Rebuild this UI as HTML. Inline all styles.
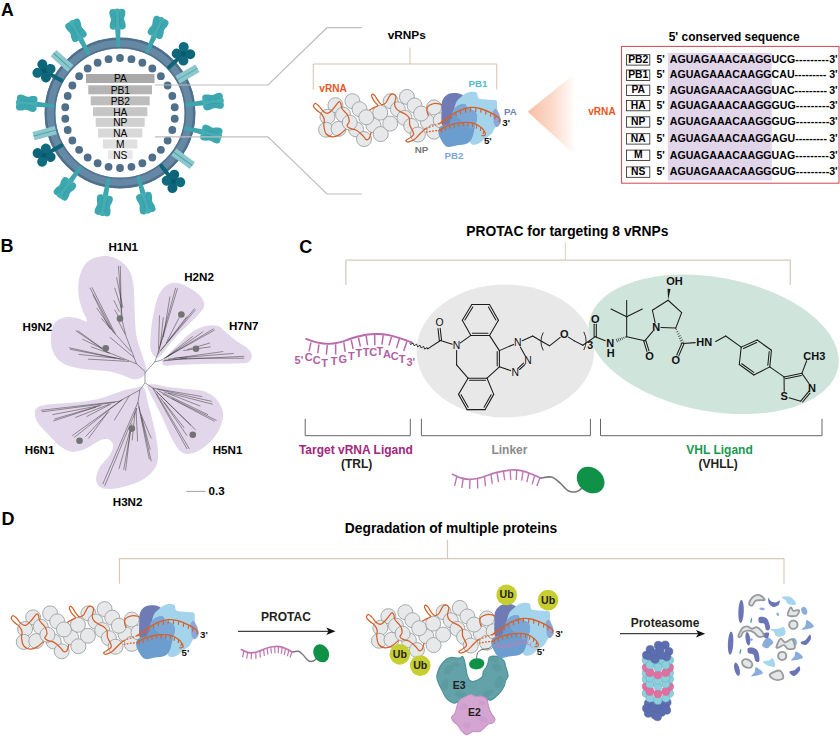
<!DOCTYPE html>
<html><head><meta charset="utf-8"><title>Figure</title>
<style>html,body{margin:0;padding:0;background:#fff;}body{width:840px;height:736px;overflow:hidden;font-family:"Liberation Sans",sans-serif;}svg{display:block}text{font-family:"Liberation Sans",sans-serif;}</style>
</head><body>
<svg width="840" height="736" viewBox="0 0 840 736">
<rect width="840" height="736" fill="#fff"/>
<g id="panelA"><text x="1" y="16.4" font-size="17.6" font-weight="bold" fill="#000" text-anchor="start" >A</text>
<circle cx="120" cy="113" r="70" fill="#fff" stroke="#6588a5" stroke-width="10.6"/>
<circle cx="120" cy="113" r="74.2" fill="none" stroke="#4f708c" stroke-width="2.4"/>
<circle cx="120" cy="113" r="65.4" fill="none" stroke="#52738f" stroke-width="1.6"/>
<g transform="translate(120,113) rotate(-48)"><rect x="-4.3" y="-89.5" width="8.6" height="23" fill="#8dc7cc"/><rect x="-0.4" y="-89.5" width="0.8" height="23" fill="#3d9ca5"/></g>
<g transform="translate(120,113) rotate(60)"><rect x="-4.3" y="-89.5" width="8.6" height="23" fill="#8dc7cc"/><rect x="-0.4" y="-89.5" width="0.8" height="23" fill="#3d9ca5"/></g>
<g transform="translate(120,113) rotate(255)"><rect x="-4.3" y="-89.5" width="8.6" height="23" fill="#8dc7cc"/><rect x="-0.4" y="-89.5" width="0.8" height="23" fill="#3d9ca5"/></g>
<g transform="translate(120,113) rotate(126)"><rect x="-4.3" y="-89.5" width="8.6" height="23" fill="#8dc7cc"/><rect x="-0.4" y="-89.5" width="0.8" height="23" fill="#3d9ca5"/></g>
<g transform="translate(120,113) rotate(-1.5)"><path d="M-2.7,-85 L2.7,-85 L1.8,-66.5 Q0,-64.8 -1.8,-66.5Z" fill="#3ca5ad"/><path d="M-8,-86.5 C-8,-82.3 -0.6,-82.3 -0.6,-86.5 C-0.6,-90.75 -2,-91.75 -2,-93.75 C-2,-95.75 -0.6,-96.75 -0.6,-101 C-0.6,-105.2 -8,-105.2 -8,-101 C-8,-96.75 -6.6,-95.75 -6.6,-93.75 C-6.6,-91.75 -8,-90.75 -8,-86.5Z" fill="#3ca7af"/><path d="M0.6,-86.5 C0.6,-82.3 8,-82.3 8,-86.5 C8,-90.75 6.6,-91.75 6.6,-93.75 C6.6,-95.75 8,-96.75 8,-101 C8,-105.2 0.6,-105.2 0.6,-101 C0.6,-96.75 2,-95.75 2,-93.75 C2,-91.75 0.6,-90.75 0.6,-86.5Z" fill="#3ca7af"/><path d="M-3.5,-86 C-3.5,-81.8 3.5,-81.8 3.5,-86 C3.5,-90.75 2.1,-91.75 2.1,-93.75 C2.1,-95.75 3.5,-96.75 3.5,-101.5 C3.5,-105.7 -3.5,-105.7 -3.5,-101.5 C-3.5,-96.75 -2.1,-95.75 -2.1,-93.75 C-2.1,-91.75 -3.5,-90.75 -3.5,-86Z" fill="#45adb4"/><path d="M-2.6,-101 C-1.8,-96 -1.8,-91 -2.6,-86 M2.6,-101 C1.8,-96 1.8,-91 2.6,-86" stroke="#2f959e" stroke-width="0.7" fill="none"/></g>
<g transform="translate(120,113) rotate(-28)"><path d="M-2.7,-85 L2.7,-85 L1.8,-66.5 Q0,-64.8 -1.8,-66.5Z" fill="#3ca5ad"/><path d="M-8,-86.5 C-8,-82.3 -0.6,-82.3 -0.6,-86.5 C-0.6,-90.75 -2,-91.75 -2,-93.75 C-2,-95.75 -0.6,-96.75 -0.6,-101 C-0.6,-105.2 -8,-105.2 -8,-101 C-8,-96.75 -6.6,-95.75 -6.6,-93.75 C-6.6,-91.75 -8,-90.75 -8,-86.5Z" fill="#3ca7af"/><path d="M0.6,-86.5 C0.6,-82.3 8,-82.3 8,-86.5 C8,-90.75 6.6,-91.75 6.6,-93.75 C6.6,-95.75 8,-96.75 8,-101 C8,-105.2 0.6,-105.2 0.6,-101 C0.6,-96.75 2,-95.75 2,-93.75 C2,-91.75 0.6,-90.75 0.6,-86.5Z" fill="#3ca7af"/><path d="M-3.5,-86 C-3.5,-81.8 3.5,-81.8 3.5,-86 C3.5,-90.75 2.1,-91.75 2.1,-93.75 C2.1,-95.75 3.5,-96.75 3.5,-101.5 C3.5,-105.7 -3.5,-105.7 -3.5,-101.5 C-3.5,-96.75 -2.1,-95.75 -2.1,-93.75 C-2.1,-91.75 -3.5,-90.75 -3.5,-86Z" fill="#45adb4"/><path d="M-2.6,-101 C-1.8,-96 -1.8,-91 -2.6,-86 M2.6,-101 C1.8,-96 1.8,-91 2.6,-86" stroke="#2f959e" stroke-width="0.7" fill="none"/></g>
<g transform="translate(120,113) rotate(24)"><path d="M-2.7,-85 L2.7,-85 L1.8,-66.5 Q0,-64.8 -1.8,-66.5Z" fill="#3ca5ad"/><path d="M-8,-86.5 C-8,-82.3 -0.6,-82.3 -0.6,-86.5 C-0.6,-90.75 -2,-91.75 -2,-93.75 C-2,-95.75 -0.6,-96.75 -0.6,-101 C-0.6,-105.2 -8,-105.2 -8,-101 C-8,-96.75 -6.6,-95.75 -6.6,-93.75 C-6.6,-91.75 -8,-90.75 -8,-86.5Z" fill="#3ca7af"/><path d="M0.6,-86.5 C0.6,-82.3 8,-82.3 8,-86.5 C8,-90.75 6.6,-91.75 6.6,-93.75 C6.6,-95.75 8,-96.75 8,-101 C8,-105.2 0.6,-105.2 0.6,-101 C0.6,-96.75 2,-95.75 2,-93.75 C2,-91.75 0.6,-90.75 0.6,-86.5Z" fill="#3ca7af"/><path d="M-3.5,-86 C-3.5,-81.8 3.5,-81.8 3.5,-86 C3.5,-90.75 2.1,-91.75 2.1,-93.75 C2.1,-95.75 3.5,-96.75 3.5,-101.5 C3.5,-105.7 -3.5,-105.7 -3.5,-101.5 C-3.5,-96.75 -2.1,-95.75 -2.1,-93.75 C-2.1,-91.75 -3.5,-90.75 -3.5,-86Z" fill="#45adb4"/><path d="M-2.6,-101 C-1.8,-96 -1.8,-91 -2.6,-86 M2.6,-101 C1.8,-96 1.8,-91 2.6,-86" stroke="#2f959e" stroke-width="0.7" fill="none"/></g>
<g transform="translate(120,113) rotate(83)"><path d="M-2.7,-85 L2.7,-85 L1.8,-66.5 Q0,-64.8 -1.8,-66.5Z" fill="#3ca5ad"/><path d="M-8,-86.5 C-8,-82.3 -0.6,-82.3 -0.6,-86.5 C-0.6,-90.75 -2,-91.75 -2,-93.75 C-2,-95.75 -0.6,-96.75 -0.6,-101 C-0.6,-105.2 -8,-105.2 -8,-101 C-8,-96.75 -6.6,-95.75 -6.6,-93.75 C-6.6,-91.75 -8,-90.75 -8,-86.5Z" fill="#3ca7af"/><path d="M0.6,-86.5 C0.6,-82.3 8,-82.3 8,-86.5 C8,-90.75 6.6,-91.75 6.6,-93.75 C6.6,-95.75 8,-96.75 8,-101 C8,-105.2 0.6,-105.2 0.6,-101 C0.6,-96.75 2,-95.75 2,-93.75 C2,-91.75 0.6,-90.75 0.6,-86.5Z" fill="#3ca7af"/><path d="M-3.5,-86 C-3.5,-81.8 3.5,-81.8 3.5,-86 C3.5,-90.75 2.1,-91.75 2.1,-93.75 C2.1,-95.75 3.5,-96.75 3.5,-101.5 C3.5,-105.7 -3.5,-105.7 -3.5,-101.5 C-3.5,-96.75 -2.1,-95.75 -2.1,-93.75 C-2.1,-91.75 -3.5,-90.75 -3.5,-86Z" fill="#45adb4"/><path d="M-2.6,-101 C-1.8,-96 -1.8,-91 -2.6,-86 M2.6,-101 C1.8,-96 1.8,-91 2.6,-86" stroke="#2f959e" stroke-width="0.7" fill="none"/></g>
<g transform="translate(120,113) rotate(103)"><path d="M-2.7,-85 L2.7,-85 L1.8,-66.5 Q0,-64.8 -1.8,-66.5Z" fill="#3ca5ad"/><path d="M-8,-86.5 C-8,-82.3 -0.6,-82.3 -0.6,-86.5 C-0.6,-90.75 -2,-91.75 -2,-93.75 C-2,-95.75 -0.6,-96.75 -0.6,-101 C-0.6,-105.2 -8,-105.2 -8,-101 C-8,-96.75 -6.6,-95.75 -6.6,-93.75 C-6.6,-91.75 -8,-90.75 -8,-86.5Z" fill="#3ca7af"/><path d="M0.6,-86.5 C0.6,-82.3 8,-82.3 8,-86.5 C8,-90.75 6.6,-91.75 6.6,-93.75 C6.6,-95.75 8,-96.75 8,-101 C8,-105.2 0.6,-105.2 0.6,-101 C0.6,-96.75 2,-95.75 2,-93.75 C2,-91.75 0.6,-90.75 0.6,-86.5Z" fill="#3ca7af"/><path d="M-3.5,-86 C-3.5,-81.8 3.5,-81.8 3.5,-86 C3.5,-90.75 2.1,-91.75 2.1,-93.75 C2.1,-95.75 3.5,-96.75 3.5,-101.5 C3.5,-105.7 -3.5,-105.7 -3.5,-101.5 C-3.5,-96.75 -2.1,-95.75 -2.1,-93.75 C-2.1,-91.75 -3.5,-90.75 -3.5,-86Z" fill="#45adb4"/><path d="M-2.6,-101 C-1.8,-96 -1.8,-91 -2.6,-86 M2.6,-101 C1.8,-96 1.8,-91 2.6,-86" stroke="#2f959e" stroke-width="0.7" fill="none"/></g>
<g transform="translate(120,113) rotate(276)"><path d="M-2.7,-85 L2.7,-85 L1.8,-66.5 Q0,-64.8 -1.8,-66.5Z" fill="#3ca5ad"/><path d="M-8,-86.5 C-8,-82.3 -0.6,-82.3 -0.6,-86.5 C-0.6,-90.75 -2,-91.75 -2,-93.75 C-2,-95.75 -0.6,-96.75 -0.6,-101 C-0.6,-105.2 -8,-105.2 -8,-101 C-8,-96.75 -6.6,-95.75 -6.6,-93.75 C-6.6,-91.75 -8,-90.75 -8,-86.5Z" fill="#3ca7af"/><path d="M0.6,-86.5 C0.6,-82.3 8,-82.3 8,-86.5 C8,-90.75 6.6,-91.75 6.6,-93.75 C6.6,-95.75 8,-96.75 8,-101 C8,-105.2 0.6,-105.2 0.6,-101 C0.6,-96.75 2,-95.75 2,-93.75 C2,-91.75 0.6,-90.75 0.6,-86.5Z" fill="#3ca7af"/><path d="M-3.5,-86 C-3.5,-81.8 3.5,-81.8 3.5,-86 C3.5,-90.75 2.1,-91.75 2.1,-93.75 C2.1,-95.75 3.5,-96.75 3.5,-101.5 C3.5,-105.7 -3.5,-105.7 -3.5,-101.5 C-3.5,-96.75 -2.1,-95.75 -2.1,-93.75 C-2.1,-91.75 -3.5,-90.75 -3.5,-86Z" fill="#45adb4"/><path d="M-2.6,-101 C-1.8,-96 -1.8,-91 -2.6,-86 M2.6,-101 C1.8,-96 1.8,-91 2.6,-86" stroke="#2f959e" stroke-width="0.7" fill="none"/></g>
<g transform="translate(120,113) rotate(216)"><path d="M-2.7,-85 L2.7,-85 L1.8,-66.5 Q0,-64.8 -1.8,-66.5Z" fill="#3ca5ad"/><path d="M-8,-86.5 C-8,-82.3 -0.6,-82.3 -0.6,-86.5 C-0.6,-90.75 -2,-91.75 -2,-93.75 C-2,-95.75 -0.6,-96.75 -0.6,-101 C-0.6,-105.2 -8,-105.2 -8,-101 C-8,-96.75 -6.6,-95.75 -6.6,-93.75 C-6.6,-91.75 -8,-90.75 -8,-86.5Z" fill="#3ca7af"/><path d="M0.6,-86.5 C0.6,-82.3 8,-82.3 8,-86.5 C8,-90.75 6.6,-91.75 6.6,-93.75 C6.6,-95.75 8,-96.75 8,-101 C8,-105.2 0.6,-105.2 0.6,-101 C0.6,-96.75 2,-95.75 2,-93.75 C2,-91.75 0.6,-90.75 0.6,-86.5Z" fill="#3ca7af"/><path d="M-3.5,-86 C-3.5,-81.8 3.5,-81.8 3.5,-86 C3.5,-90.75 2.1,-91.75 2.1,-93.75 C2.1,-95.75 3.5,-96.75 3.5,-101.5 C3.5,-105.7 -3.5,-105.7 -3.5,-101.5 C-3.5,-96.75 -2.1,-95.75 -2.1,-93.75 C-2.1,-91.75 -3.5,-90.75 -3.5,-86Z" fill="#45adb4"/><path d="M-2.6,-101 C-1.8,-96 -1.8,-91 -2.6,-86 M2.6,-101 C1.8,-96 1.8,-91 2.6,-86" stroke="#2f959e" stroke-width="0.7" fill="none"/></g>
<g transform="translate(120,113) rotate(190)"><path d="M-2.7,-85 L2.7,-85 L1.8,-66.5 Q0,-64.8 -1.8,-66.5Z" fill="#3ca5ad"/><path d="M-8,-86.5 C-8,-82.3 -0.6,-82.3 -0.6,-86.5 C-0.6,-90.75 -2,-91.75 -2,-93.75 C-2,-95.75 -0.6,-96.75 -0.6,-101 C-0.6,-105.2 -8,-105.2 -8,-101 C-8,-96.75 -6.6,-95.75 -6.6,-93.75 C-6.6,-91.75 -8,-90.75 -8,-86.5Z" fill="#3ca7af"/><path d="M0.6,-86.5 C0.6,-82.3 8,-82.3 8,-86.5 C8,-90.75 6.6,-91.75 6.6,-93.75 C6.6,-95.75 8,-96.75 8,-101 C8,-105.2 0.6,-105.2 0.6,-101 C0.6,-96.75 2,-95.75 2,-93.75 C2,-91.75 0.6,-90.75 0.6,-86.5Z" fill="#3ca7af"/><path d="M-3.5,-86 C-3.5,-81.8 3.5,-81.8 3.5,-86 C3.5,-90.75 2.1,-91.75 2.1,-93.75 C2.1,-95.75 3.5,-96.75 3.5,-101.5 C3.5,-105.7 -3.5,-105.7 -3.5,-101.5 C-3.5,-96.75 -2.1,-95.75 -2.1,-93.75 C-2.1,-91.75 -3.5,-90.75 -3.5,-86Z" fill="#45adb4"/><path d="M-2.6,-101 C-1.8,-96 -1.8,-91 -2.6,-86 M2.6,-101 C1.8,-96 1.8,-91 2.6,-86" stroke="#2f959e" stroke-width="0.7" fill="none"/></g>
<g transform="translate(120,113) rotate(164)"><path d="M-2.7,-85 L2.7,-85 L1.8,-66.5 Q0,-64.8 -1.8,-66.5Z" fill="#3ca5ad"/><path d="M-8,-86.5 C-8,-82.3 -0.6,-82.3 -0.6,-86.5 C-0.6,-90.75 -2,-91.75 -2,-93.75 C-2,-95.75 -0.6,-96.75 -0.6,-101 C-0.6,-105.2 -8,-105.2 -8,-101 C-8,-96.75 -6.6,-95.75 -6.6,-93.75 C-6.6,-91.75 -8,-90.75 -8,-86.5Z" fill="#3ca7af"/><path d="M0.6,-86.5 C0.6,-82.3 8,-82.3 8,-86.5 C8,-90.75 6.6,-91.75 6.6,-93.75 C6.6,-95.75 8,-96.75 8,-101 C8,-105.2 0.6,-105.2 0.6,-101 C0.6,-96.75 2,-95.75 2,-93.75 C2,-91.75 0.6,-90.75 0.6,-86.5Z" fill="#3ca7af"/><path d="M-3.5,-86 C-3.5,-81.8 3.5,-81.8 3.5,-86 C3.5,-90.75 2.1,-91.75 2.1,-93.75 C2.1,-95.75 3.5,-96.75 3.5,-101.5 C3.5,-105.7 -3.5,-105.7 -3.5,-101.5 C-3.5,-96.75 -2.1,-95.75 -2.1,-93.75 C-2.1,-91.75 -3.5,-90.75 -3.5,-86Z" fill="#45adb4"/><path d="M-2.6,-101 C-1.8,-96 -1.8,-91 -2.6,-86 M2.6,-101 C1.8,-96 1.8,-91 2.6,-86" stroke="#2f959e" stroke-width="0.7" fill="none"/></g>
<g transform="translate(120,113) rotate(-61)"><line x1="0" y1="-67" x2="0" y2="-86" stroke="#0d6579" stroke-width="4" stroke-linecap="round"/><circle cx="0" cy="-87" r="5.0" fill="#0a566a"/><circle cx="-4.9" cy="-91.7" r="5.0" fill="#0f6b7e"/><circle cx="4.9" cy="-91.5" r="5.0" fill="#0d6579"/><circle cx="-4.8" cy="-82" r="5.0" fill="#0d6579"/><circle cx="4.9" cy="-82.1" r="5.0" fill="#10697c"/></g>
<g transform="translate(120,113) rotate(47)"><line x1="0" y1="-67" x2="0" y2="-86" stroke="#0d6579" stroke-width="4" stroke-linecap="round"/><circle cx="0" cy="-87" r="5.0" fill="#0a566a"/><circle cx="-4.9" cy="-91.7" r="5.0" fill="#0f6b7e"/><circle cx="4.9" cy="-91.5" r="5.0" fill="#0d6579"/><circle cx="-4.8" cy="-82" r="5.0" fill="#0d6579"/><circle cx="4.9" cy="-82.1" r="5.0" fill="#10697c"/></g>
<g transform="translate(120,113) rotate(241)"><line x1="0" y1="-67" x2="0" y2="-86" stroke="#0d6579" stroke-width="4" stroke-linecap="round"/><circle cx="0" cy="-87" r="5.0" fill="#0a566a"/><circle cx="-4.9" cy="-91.7" r="5.0" fill="#0f6b7e"/><circle cx="4.9" cy="-91.5" r="5.0" fill="#0d6579"/><circle cx="-4.8" cy="-82" r="5.0" fill="#0d6579"/><circle cx="4.9" cy="-82.1" r="5.0" fill="#10697c"/></g>
<g transform="translate(120,113) rotate(142)"><line x1="0" y1="-67" x2="0" y2="-86" stroke="#0d6579" stroke-width="4" stroke-linecap="round"/><circle cx="0" cy="-87" r="5.0" fill="#0a566a"/><circle cx="-4.9" cy="-91.7" r="5.0" fill="#0f6b7e"/><circle cx="4.9" cy="-91.5" r="5.0" fill="#0d6579"/><circle cx="-4.8" cy="-82" r="5.0" fill="#0d6579"/><circle cx="4.9" cy="-82.1" r="5.0" fill="#10697c"/></g>
<circle cx="120" cy="58" r="3.9" fill="#4f6f8b"/>
<circle cx="131.44" cy="59.2" r="3.9" fill="#4f6f8b"/>
<circle cx="142.37" cy="62.75" r="3.9" fill="#4f6f8b"/>
<circle cx="152.33" cy="68.5" r="3.9" fill="#4f6f8b"/>
<circle cx="160.87" cy="76.2" r="3.9" fill="#4f6f8b"/>
<circle cx="167.63" cy="85.5" r="3.9" fill="#4f6f8b"/>
<circle cx="172.31" cy="96" r="3.9" fill="#4f6f8b"/>
<circle cx="174.7" cy="107.25" r="3.9" fill="#4f6f8b"/>
<circle cx="174.7" cy="118.75" r="3.9" fill="#4f6f8b"/>
<circle cx="172.31" cy="130" r="3.9" fill="#4f6f8b"/>
<circle cx="167.63" cy="140.5" r="3.9" fill="#4f6f8b"/>
<circle cx="160.87" cy="149.8" r="3.9" fill="#4f6f8b"/>
<circle cx="152.33" cy="157.5" r="3.9" fill="#4f6f8b"/>
<circle cx="142.37" cy="163.25" r="3.9" fill="#4f6f8b"/>
<circle cx="131.44" cy="166.8" r="3.9" fill="#4f6f8b"/>
<circle cx="120" cy="168" r="3.9" fill="#4f6f8b"/>
<circle cx="108.56" cy="166.8" r="3.9" fill="#4f6f8b"/>
<circle cx="97.63" cy="163.25" r="3.9" fill="#4f6f8b"/>
<circle cx="87.67" cy="157.5" r="3.9" fill="#4f6f8b"/>
<circle cx="79.13" cy="149.8" r="3.9" fill="#4f6f8b"/>
<circle cx="72.37" cy="140.5" r="3.9" fill="#4f6f8b"/>
<circle cx="67.69" cy="130" r="3.9" fill="#4f6f8b"/>
<circle cx="65.3" cy="118.75" r="3.9" fill="#4f6f8b"/>
<circle cx="65.3" cy="107.25" r="3.9" fill="#4f6f8b"/>
<circle cx="67.69" cy="96" r="3.9" fill="#4f6f8b"/>
<circle cx="72.37" cy="85.5" r="3.9" fill="#4f6f8b"/>
<circle cx="79.13" cy="76.2" r="3.9" fill="#4f6f8b"/>
<circle cx="87.67" cy="68.5" r="3.9" fill="#4f6f8b"/>
<circle cx="97.63" cy="62.75" r="3.9" fill="#4f6f8b"/>
<circle cx="108.56" cy="59.2" r="3.9" fill="#4f6f8b"/>
<rect x="86" y="74" width="68.5" height="9" fill="#a9a9a9"/>
<text x="120.3" y="82.4" font-size="10.2" font-weight="normal" fill="#000" text-anchor="middle" >PA</text>
<rect x="88.3" y="85.3" width="63.7" height="9" fill="#b4b4b4"/>
<text x="120.3" y="93.7" font-size="10.2" font-weight="normal" fill="#000" text-anchor="middle" >PB1</text>
<rect x="90.7" y="96.3" width="59" height="9" fill="#bdbdbd"/>
<text x="120.3" y="104.7" font-size="10.2" font-weight="normal" fill="#000" text-anchor="middle" >PB2</text>
<rect x="93" y="107.2" width="54.3" height="9" fill="#c6c6c6"/>
<text x="120.3" y="115.6" font-size="10.2" font-weight="normal" fill="#000" text-anchor="middle" >HA</text>
<rect x="95.7" y="117.8" width="49" height="9" fill="#cfcfcf"/>
<text x="120.3" y="126.2" font-size="10.2" font-weight="normal" fill="#000" text-anchor="middle" >NP</text>
<rect x="98" y="128.5" width="44.3" height="9" fill="#d8d8d8"/>
<text x="120.3" y="136.9" font-size="10.2" font-weight="normal" fill="#000" text-anchor="middle" >NA</text>
<rect x="103" y="139.5" width="34.3" height="9" fill="#e0e0e0"/>
<text x="120.3" y="147.9" font-size="10.2" font-weight="normal" fill="#000" text-anchor="middle" >M</text>
<rect x="108" y="150.3" width="24.7" height="9" fill="#e8e8e8"/>
<text x="120.3" y="158.7" font-size="10.2" font-weight="normal" fill="#000" text-anchor="middle" >NS</text>
<path d="M155,85 H268 L327,27.7 H362 M155,136.8 H268 L327,194 H362" fill="none" stroke="#bebebe" stroke-width="1.2"/></g>
<g id="panelA2"><text x="406.7" y="38.5" font-size="11.8" font-weight="bold" fill="#000" text-anchor="middle" >vRNPs</text>
<path d="M410,47.5 V64 M313.3,89.5 V64 H496.8 V89.5" fill="none" stroke="#d3b9a4" stroke-width="0.9"/>
<g transform="translate(0,0) scale(1.0)"><circle cx="352.41" cy="101.16" r="7.5" fill="#e6e8ea" stroke="#9a9d9e" stroke-width="0.85"/><circle cx="335.45" cy="105.18" r="7.5" fill="#e6e8ea" stroke="#9a9d9e" stroke-width="0.85"/><circle cx="327.41" cy="116.79" r="7.5" fill="#e6e8ea" stroke="#9a9d9e" stroke-width="0.85"/><circle cx="326.07" cy="129.73" r="7.5" fill="#e6e8ea" stroke="#9a9d9e" stroke-width="0.85"/><circle cx="338.57" cy="128.84" r="7.5" fill="#e6e8ea" stroke="#9a9d9e" stroke-width="0.85"/><circle cx="343.04" cy="114.55" r="7.5" fill="#e6e8ea" stroke="#9a9d9e" stroke-width="0.85"/><circle cx="359.55" cy="109.2" r="7.5" fill="#e6e8ea" stroke="#9a9d9e" stroke-width="0.85"/><circle cx="355.98" cy="129.29" r="7.5" fill="#e6e8ea" stroke="#9a9d9e" stroke-width="0.85"/><circle cx="349.73" cy="122.59" r="7.5" fill="#e6e8ea" stroke="#9a9d9e" stroke-width="0.85"/><circle cx="364.02" cy="139.11" r="7.5" fill="#e6e8ea" stroke="#9a9d9e" stroke-width="0.85"/><circle cx="373.39" cy="125.27" r="7.5" fill="#e6e8ea" stroke="#9a9d9e" stroke-width="0.85"/><circle cx="366.25" cy="117.23" r="7.5" fill="#e6e8ea" stroke="#9a9d9e" stroke-width="0.85"/><circle cx="390.71" cy="101.19" r="7.5" fill="#e6e8ea" stroke="#9a9d9e" stroke-width="0.85"/><circle cx="380.24" cy="112.62" r="7.5" fill="#e6e8ea" stroke="#9a9d9e" stroke-width="0.85"/><circle cx="380.71" cy="134.05" r="7.5" fill="#e6e8ea" stroke="#9a9d9e" stroke-width="0.85"/><circle cx="390.24" cy="123.57" r="7.5" fill="#e6e8ea" stroke="#9a9d9e" stroke-width="0.85"/><circle cx="406.9" cy="96.9" r="7.5" fill="#e6e8ea" stroke="#9a9d9e" stroke-width="0.85"/><circle cx="397.86" cy="109.29" r="7.5" fill="#e6e8ea" stroke="#9a9d9e" stroke-width="0.85"/><circle cx="404.52" cy="117.86" r="7.5" fill="#e6e8ea" stroke="#9a9d9e" stroke-width="0.85"/><circle cx="414.52" cy="105.48" r="7.5" fill="#e6e8ea" stroke="#9a9d9e" stroke-width="0.85"/><circle cx="411.19" cy="125.95" r="7.5" fill="#e6e8ea" stroke="#9a9d9e" stroke-width="0.85"/><circle cx="417.86" cy="134.52" r="7.5" fill="#e6e8ea" stroke="#9a9d9e" stroke-width="0.85"/><circle cx="427.86" cy="122.14" r="7.5" fill="#e6e8ea" stroke="#9a9d9e" stroke-width="0.85"/><circle cx="421.19" cy="113.57" r="7.5" fill="#e6e8ea" stroke="#9a9d9e" stroke-width="0.85"/><circle cx="434.05" cy="107.38" r="7.5" fill="#e6e8ea" stroke="#9a9d9e" stroke-width="0.85"/><circle cx="434.05" cy="131.67" r="7.5" fill="#e6e8ea" stroke="#9a9d9e" stroke-width="0.85"/><circle cx="440.71" cy="120.24" r="7.5" fill="#e6e8ea" stroke="#9a9d9e" stroke-width="0.85"/><path d="M428.33,115.48 C428.1,114.68 426.98,112.22 426.9,110.71 C426.83,109.21 426.75,107.62 427.86,106.43 C428.97,105.24 431.51,103.97 433.57,103.57 C435.63,103.17 438.73,103.65 440.24,104.05 C441.75,104.44 442.22,105.63 442.62,105.95" fill="none" stroke="#d5612a" stroke-width="1.25"/><path d="M441.5,111.67 C441.61,108.31 441.3,104.03 442.11,101.28 C442.93,98.53 444.56,96.54 446.39,95.17 C448.23,93.81 450.77,93.3 453.12,93.09 C455.46,92.89 458.66,93.3 460.45,93.95 C462.25,94.6 463.06,94.87 463.88,97 C464.69,99.14 465.71,102.71 465.34,106.78 C464.98,110.86 463.92,117.99 461.67,121.45 C459.43,124.92 454.95,126.75 451.89,127.57 C448.84,128.38 445.07,127.36 443.34,126.34 C441.61,125.33 441.81,123.9 441.5,121.45 C441.2,119.01 441.4,115.04 441.5,111.67Z" fill="#6e7bb4"/><path d="M455.56,103.73 C456.58,100.77 458.62,99.39 460.45,97.62 C462.29,95.84 464.63,94.05 466.56,93.09 C468.5,92.14 470.33,91.87 472.07,91.87 C473.8,91.87 475.88,92.03 476.96,93.09 C478.04,94.15 477.02,97.17 478.55,98.23 C480.07,99.29 483.64,99.14 486.12,99.45 C488.61,99.76 491.67,99.76 493.46,100.06 C495.25,100.37 496.27,99.76 496.88,101.28 C497.49,102.81 496.64,106.89 497.13,109.23 C497.62,111.57 499.25,113 499.82,115.34 C500.39,117.69 501.3,121.25 500.55,123.29 C499.8,125.33 496.78,125.84 495.29,127.57 C493.81,129.3 493.36,131.85 491.63,133.68 C489.89,135.51 487.04,136.94 484.9,138.57 C482.76,140.2 480.93,142.48 478.79,143.46 C476.65,144.44 473.8,145.05 472.07,144.44 C470.33,143.83 470.13,142.2 468.4,139.79 C466.67,137.39 464.02,134.09 461.67,130.01 C459.33,125.94 455.36,119.72 454.34,115.34 C453.32,110.96 454.54,106.68 455.56,103.73Z" fill="#a4d4ec"/><path d="M492.6,112.29 C492.97,110.74 494.7,108.39 495.66,108.5 C496.62,108.6 497.6,111.45 498.35,112.9 C499.1,114.34 499.78,115.65 500.18,117.18 C500.59,118.7 501.26,120.42 500.79,122.07 C500.33,123.72 498.49,126.77 497.37,127.08 C496.25,127.38 494.72,125.45 494.07,123.9 C493.42,122.35 493.7,119.72 493.46,117.79 C493.22,115.85 492.24,113.83 492.6,112.29Z" fill="#8da5d8"/><path d="M452.51,111.67 C453.69,109.74 455.97,106.83 458.01,105.56 C460.04,104.3 463.06,103.59 464.73,104.1 C466.4,104.6 466.34,107.4 468.03,108.62 C469.72,109.84 473.37,110 474.88,111.43 C476.39,112.86 477.14,114.28 477.08,117.18 C477.02,120.07 475.35,125.33 474.51,128.79 C473.68,132.25 473.29,135.51 472.07,137.96 C470.84,140.4 469.62,142.24 467.18,143.46 C464.73,144.68 460.66,144.72 457.4,145.29 C454.14,145.86 450.16,147.49 447.62,146.88 C445.07,146.27 443.64,143.93 442.11,141.63 C440.59,139.32 438.69,135.62 438.45,133.07 C438.2,130.52 438.92,127.87 440.65,126.34 C442.38,124.82 447.13,125.43 448.84,123.9 C450.55,122.37 450.31,119.21 450.92,117.18 C451.53,115.14 451.32,113.61 452.51,111.67Z" fill="#6c9dcf"/><path d="M452.87,111.43 C452.87,109.39 456.03,106.78 458.01,105.56 C459.98,104.34 463.06,103.59 464.73,104.1 C466.4,104.6 466.34,107.4 468.03,108.62 C469.72,109.84 473.37,110 474.88,111.43 C476.39,112.86 476.94,115.1 477.08,117.18 C477.22,119.25 476.67,121.96 475.73,123.9 C474.8,125.84 473.19,128.79 471.45,128.79 C469.72,128.79 467.58,125.73 465.34,123.9 C463.1,122.07 460.09,119.87 458.01,117.79 C455.93,115.71 452.87,113.47 452.87,111.43Z" fill="#7aa7d6"/><path d="M345.71,129.29 C344.67,130.18 341.7,133.38 339.46,134.64 C337.23,135.91 334.55,137.02 332.32,136.88 C330.09,136.73 327.49,135.61 326.07,133.75 C324.66,131.89 324.14,128.1 323.84,125.71 C323.54,123.33 324.66,121.4 324.29,119.46 C323.91,117.53 322.8,115.6 321.61,114.11 C320.42,112.62 318.48,111.8 317.14,110.54 C315.8,109.27 313.87,107.71 313.57,106.52 C313.27,105.33 314.46,103.47 315.36,103.39 C316.25,103.32 317.59,104.73 318.93,106.07 C320.27,107.41 321.9,110.24 323.39,111.43 C324.88,112.62 326.22,113.66 327.86,113.21 C329.49,112.77 331.43,110.61 333.21,108.75 C335,106.89 337.31,102.95 338.57,102.05 C339.84,101.16 340.21,102.28 340.8,103.39 C341.4,104.51 341.03,106.82 342.14,108.75 C343.26,110.68 346.31,112.92 347.5,115 C348.69,117.08 349.36,119.46 349.29,121.25 C349.21,123.04 346.9,124.52 347.05,125.71 C347.2,126.9 348.62,127.65 350.18,128.39 C351.74,129.14 354.35,128.99 356.43,130.18 C358.51,131.37 361.04,133.97 362.68,135.54 C364.32,137.1 365.13,139.11 366.25,139.55 C367.37,140 368.56,139.48 369.38,138.21 C370.19,136.95 370.86,133.01 371.16,131.96 M369.29,110.24 C370.16,109.76 373.1,108.17 374.52,107.38 C375.95,106.59 377.86,106.43 377.86,105.48 C377.86,104.52 375.56,103.17 374.52,101.67 C373.49,100.16 371.98,97.7 371.67,96.43 C371.35,95.16 372.06,94.13 372.62,94.05 C373.17,93.97 374.05,94.76 375,95.95 C375.95,97.14 377.22,99.76 378.33,101.19 C379.44,102.62 380.48,104.21 381.67,104.52 C382.86,104.84 384.37,104.13 385.48,103.1 C386.59,102.06 387.46,99.76 388.33,98.33 C389.21,96.9 389.68,95.16 390.71,94.52 C391.75,93.89 393.65,94.05 394.52,94.52 C395.4,95 395.95,95.79 395.95,97.38 C395.95,98.97 394.44,102.14 394.52,104.05 C394.6,105.95 395.32,107.46 396.43,108.81 C397.54,110.16 399.6,111.19 401.19,112.14 C402.78,113.1 404.6,113.49 405.95,114.52 C407.3,115.56 408.65,116.59 409.29,118.33 C409.92,120.08 409.21,122.94 409.76,125 C410.32,127.06 411.98,129.13 412.62,130.71 C413.25,132.3 413.89,133.41 413.57,134.52 C413.25,135.63 411.83,136.51 410.71,137.38 C409.6,138.25 407.7,139.13 406.9,139.76 C406.11,140.4 405.63,140.83 405.95,141.19 C406.27,141.56 407.38,142.27 408.81,141.95 C410.24,141.63 412.62,140.68 414.52,139.29 C416.43,137.89 418.33,135.4 420.24,133.57 C422.14,131.75 425,129.21 425.95,128.33" fill="none" stroke="#d5612a" stroke-width="1.25" stroke-linejoin="round"/><path d="M425.95,128.33 C427.54,127.78 432.94,125.95 435.48,125 C438.02,124.05 440.59,122.8 441.19,122.62 C441.79,122.44 439.41,123.69 439.06,123.9 M425.95,132.14 C427.54,131.9 433.29,130.97 435.48,130.71 C437.66,130.46 438.46,130.64 439.06,130.62" fill="none" stroke="#d5612a" stroke-width="1.2" stroke-dasharray="1.8 1.3"/><path d="M439.06,123.9 C439.98,123.19 442.83,120.88 444.56,119.62 C446.29,118.36 447,117.81 449.45,116.32 C451.89,114.83 455.77,112.16 459.23,110.7 C462.69,109.23 466.77,107.89 470.23,107.52 C473.7,107.15 476.55,107.6 480.01,108.5 C483.48,109.39 487.8,111.25 491.01,112.9 C494.23,114.55 497.98,116.87 499.33,118.4 C500.67,119.93 499.12,121.45 499.08,122.07 M439.06,130.62 C439.77,130.15 441.61,128.73 443.34,127.81 C445.07,126.89 446.39,126 449.45,125.12 C452.51,124.25 457.6,122.84 461.67,122.56 C465.75,122.27 470.64,122.58 473.9,123.41 C477.16,124.25 479.4,126.1 481.23,127.57 C483.07,129.03 484.29,130.91 484.9,132.21 C485.51,133.52 485.47,134.82 484.9,135.39 C484.33,135.96 482.05,135.59 481.48,135.64" fill="none" stroke="#d5612a" stroke-width="1.3" stroke-linejoin="round"/><path d="M442.24,121.42 L443,125.01 M446.54,118.29 L447.22,121.93 M451.01,115.42 L451.62,119.11 M455.62,112.77 L456.24,116.46 M460.34,110.37 L460.68,114.18 M465.45,108.9 L465.79,112.7 M470.58,107.55 L470.45,111.4 M475.87,108.08 L475.75,111.93 M481.08,108.93 L480.63,112.69 M486.02,110.9 L485.57,114.66 M490.96,112.88 L490.51,116.64 M495.4,115.8 L494.73,119.45 M441.19,129.23 L441.82,132.67 M445.27,126.96 L445.73,130.5 M449.56,125.1 L449.8,128.7 M454.14,124.14 L454.38,127.74 M458.72,123.17 L458.96,126.78 M463.34,122.67 L463.26,126.3 M468.01,123 L467.93,126.63 M472.68,123.33 L472.6,126.95 M476.91,125.12 L476.34,128.6 M480.98,127.42 L480.41,130.9 M483.96,131.01 L483.05,134.21" fill="none" stroke="#d5612a" stroke-width="1.15"/></g>
<text x="319.3" y="91.5" font-size="10.1" font-weight="bold" fill="#e8571f" text-anchor="start" >vRNA</text>
<text x="468.5" y="87.4" font-size="9.7" font-weight="bold" fill="#52bccb" text-anchor="start" >PB1</text>
<text x="504" y="115.2" font-size="9.7" font-weight="bold" fill="#717fbd" text-anchor="start" >PA</text>
<text x="502.3" y="125.9" font-size="9.7" font-weight="bold" fill="#111" text-anchor="start" >3'</text>
<text x="483.9" y="143.8" font-size="9.7" font-weight="bold" fill="#111" text-anchor="start" >5'</text>
<text x="414.8" y="152.7" font-size="9.7" font-weight="bold" fill="#777" text-anchor="start" >NP</text>
<text x="444.6" y="158.7" font-size="9.7" font-weight="bold" fill="#7ba6db" text-anchor="start" >PB2</text></g>
<g id="panelA3"><defs><linearGradient id="tri" x1="0" x2="1" y1="0" y2="0"><stop offset="0" stop-color="#f8bfa6"/><stop offset="0.5" stop-color="#fbd9c9"/><stop offset="1" stop-color="#ffffff"/></linearGradient></defs>
<path d="M527.7,111.8 L575.5,73 V155.6Z" fill="url(#tri)"/>
<text x="588.2" y="115.3" font-size="10.1" font-weight="bold" fill="#e8571f" text-anchor="start" >vRNA</text>
<text x="734.2" y="40.5" font-size="11.95" font-weight="bold" fill="#000" text-anchor="middle" >5' conserved sequence</text>
<rect x="667.8" y="53" width="104" height="127.3" fill="#e1d5ea"/>
<rect x="621.6" y="46.4" width="217.4" height="136.8" fill="none" stroke="#d8434f" stroke-width="1"/>
<rect x="626.6" y="54.7" width="23.2" height="10.4" fill="#fff" stroke="#222" stroke-width="0.8"/>
<text x="638.2" y="63" font-size="10.3" font-weight="bold" fill="#000" text-anchor="middle" >PB2</text>
<text x="656.5" y="63.1" font-size="10.4" font-weight="bold" fill="#000" text-anchor="start" >5'</text>
<text x="669.8" y="63.1" font-size="10.6" font-weight="bold" fill="#000" text-anchor="start" >AGUAGAAACAAGGUCG<tspan letter-spacing="0.22">---------</tspan></text>
<text x="837.6" y="63.1" font-size="10.6" font-weight="bold" fill="#000" text-anchor="end" >3'</text>
<rect x="626.6" y="70" width="23.2" height="10.4" fill="#fff" stroke="#222" stroke-width="0.8"/>
<text x="638.2" y="78.3" font-size="10.3" font-weight="bold" fill="#000" text-anchor="middle" >PB1</text>
<text x="656.5" y="78.4" font-size="10.4" font-weight="bold" fill="#000" text-anchor="start" >5'</text>
<text x="669.8" y="78.4" font-size="10.6" font-weight="bold" fill="#000" text-anchor="start" >AGUAGAAACAAGGCAU<tspan letter-spacing="0">---------</tspan></text>
<text x="837.6" y="78.4" font-size="10.6" font-weight="bold" fill="#000" text-anchor="end" >3'</text>
<rect x="626.6" y="85.1" width="23.2" height="10.4" fill="#fff" stroke="#222" stroke-width="0.8"/>
<text x="638.2" y="93.4" font-size="10.3" font-weight="bold" fill="#000" text-anchor="middle" >PA</text>
<text x="656.5" y="93.5" font-size="10.4" font-weight="bold" fill="#000" text-anchor="start" >5'</text>
<text x="669.8" y="93.5" font-size="10.6" font-weight="bold" fill="#000" text-anchor="start" >AGUAGAAACAAGGUAC<tspan letter-spacing="0.1">---------</tspan></text>
<text x="837.6" y="93.5" font-size="10.6" font-weight="bold" fill="#000" text-anchor="end" >3'</text>
<rect x="626.6" y="100.4" width="23.2" height="10.4" fill="#fff" stroke="#222" stroke-width="0.8"/>
<text x="638.2" y="108.7" font-size="10.3" font-weight="bold" fill="#000" text-anchor="middle" >HA</text>
<text x="656.5" y="108.8" font-size="10.4" font-weight="bold" fill="#000" text-anchor="start" >5'</text>
<text x="669.8" y="108.8" font-size="10.6" font-weight="bold" fill="#000" text-anchor="start" >AGUAGAAACAAGGGUG<tspan letter-spacing="0.22">---------</tspan></text>
<text x="837.6" y="108.8" font-size="10.6" font-weight="bold" fill="#000" text-anchor="end" >3'</text>
<rect x="626.6" y="116.8" width="23.2" height="10.4" fill="#fff" stroke="#222" stroke-width="0.8"/>
<text x="638.2" y="125.1" font-size="10.3" font-weight="bold" fill="#000" text-anchor="middle" >NP</text>
<text x="656.5" y="125.2" font-size="10.4" font-weight="bold" fill="#000" text-anchor="start" >5'</text>
<text x="669.8" y="125.2" font-size="10.6" font-weight="bold" fill="#000" text-anchor="start" >AGUAGAAACAAGGGUG<tspan letter-spacing="0.22">---------</tspan></text>
<text x="837.6" y="125.2" font-size="10.6" font-weight="bold" fill="#000" text-anchor="end" >3'</text>
<rect x="626.6" y="133.7" width="23.2" height="10.4" fill="#fff" stroke="#222" stroke-width="0.8"/>
<text x="638.2" y="142" font-size="10.3" font-weight="bold" fill="#000" text-anchor="middle" >NA</text>
<text x="656.5" y="142.1" font-size="10.4" font-weight="bold" fill="#000" text-anchor="start" >5'</text>
<text x="669.8" y="142.1" font-size="10.6" font-weight="bold" fill="#000" text-anchor="start" >AGUAGAAACAAGGAGU<tspan letter-spacing="0">---------</tspan></text>
<text x="837.6" y="142.1" font-size="10.6" font-weight="bold" fill="#000" text-anchor="end" >3'</text>
<rect x="626.6" y="150.1" width="23.2" height="10.4" fill="#fff" stroke="#222" stroke-width="0.8"/>
<text x="638.2" y="158.4" font-size="10.3" font-weight="bold" fill="#000" text-anchor="middle" >M</text>
<text x="656.5" y="158.5" font-size="10.4" font-weight="bold" fill="#000" text-anchor="start" >5'</text>
<text x="669.8" y="158.5" font-size="10.6" font-weight="bold" fill="#000" text-anchor="start" >AGUAGAAACAAGGUAG<tspan letter-spacing="0.22">---------</tspan></text>
<text x="837.6" y="158.5" font-size="10.6" font-weight="bold" fill="#000" text-anchor="end" >3'</text>
<rect x="626.6" y="166.9" width="23.2" height="10.4" fill="#fff" stroke="#222" stroke-width="0.8"/>
<text x="638.2" y="175.2" font-size="10.3" font-weight="bold" fill="#000" text-anchor="middle" >NS</text>
<text x="656.5" y="175.3" font-size="10.4" font-weight="bold" fill="#000" text-anchor="start" >5'</text>
<text x="669.8" y="175.3" font-size="10.6" font-weight="bold" fill="#000" text-anchor="start" >AGUAGAAACAAGGGUG<tspan letter-spacing="0.22">---------</tspan></text>
<text x="837.6" y="175.3" font-size="10.6" font-weight="bold" fill="#000" text-anchor="end" >3'</text></g>
<g id="panelB"><text x="0.4" y="252" font-size="18" font-weight="bold" fill="#000" text-anchor="start" >B</text>
<path d="M146.42,368.64 C145.85,365.63 143.88,360.72 142.23,355.33 C140.58,349.94 137.79,343.6 136.52,336.31 C135.26,329.01 135.1,319.82 134.62,311.58 C134.15,303.33 134.62,293.82 133.67,286.85 C132.72,279.87 131.93,274.48 128.92,269.73 C125.9,264.97 120.36,260.53 115.6,258.32 C110.84,256.1 105.14,255.78 100.38,256.41 C95.63,257.05 90.55,258.63 87.07,262.12 C83.58,265.61 80.88,271.95 79.46,277.34 C78.03,282.73 78.03,289.07 78.51,294.46 C78.98,299.85 80.88,305.24 82.31,309.68 C83.74,314.11 87.86,319.66 87.07,321.09 C86.27,322.52 81.2,318.87 77.56,318.24 C73.91,317.6 69,316.49 65.19,317.28 C61.39,318.08 57.11,319.82 54.73,322.99 C52.35,326.16 51.24,331.55 50.92,336.31 C50.61,341.06 50.92,347.09 52.83,351.52 C54.73,355.96 57.58,360.08 62.34,362.94 C67.09,365.79 74.07,367.31 81.36,368.64 C88.65,369.98 99.43,369.91 106.09,370.93 C112.75,371.94 116.87,373.37 121.31,374.73 C125.75,376.1 129.55,378.54 132.72,379.11 C135.89,379.68 138.17,379.11 140.33,378.16 C142.48,377.2 144.64,374.99 145.66,373.4 C146.67,371.82 146.99,371.66 146.42,368.64Z" fill="#e2d7ea"/>
<path d="M154.73,356.69 C153.24,355.36 151.18,352.88 150.54,348.7 C149.91,344.51 150.39,337.6 150.92,331.58 C151.46,325.55 152.51,318.58 153.78,312.56 C155.05,306.53 156.31,300.03 158.53,295.44 C160.75,290.84 163.92,287.03 167.09,284.97 C170.26,282.91 173.59,282.44 177.56,283.07 C181.52,283.71 186.91,286.4 190.87,288.78 C194.83,291.16 199.11,294.48 201.33,297.34 C203.55,300.19 204.66,303.04 204.19,305.9 C203.71,308.75 201.33,311.13 198.48,314.46 C195.63,317.79 190.87,322.07 187.07,325.87 C183.26,329.68 179.14,333.48 175.65,337.28 C172.17,341.09 168.84,345.46 166.14,348.7 C163.45,351.93 161.39,355.36 159.48,356.69 C157.58,358.02 156.22,358.02 154.73,356.69Z" fill="#e2d7ea"/>
<path d="M162.34,362.96 C162.65,361.06 165.19,357.73 168.04,354.4 C170.9,351.08 175.34,346.8 179.46,342.99 C183.58,339.19 188.33,334.43 192.77,331.58 C197.21,328.72 201.97,326.82 206.09,325.87 C210.21,324.92 214.33,324.92 217.5,325.87 C220.67,326.82 221.94,329.04 225.11,331.58 C228.28,334.11 232.72,338.24 236.52,341.09 C240.33,343.94 245.4,346.32 247.94,348.7 C250.47,351.08 251.58,353.14 251.74,355.36 C251.9,357.57 251.43,360.65 248.89,362.01 C246.35,363.38 243.66,363.22 236.52,363.54 C229.39,363.85 215.92,363.69 206.09,363.92 C196.26,364.14 184.21,364.55 177.56,364.87 C170.9,365.18 168.68,366.13 166.14,365.82 C163.61,365.5 162.02,364.87 162.34,362.96Z" fill="#e2d7ea"/>
<path d="M141.74,386.74 C139.9,386.42 137.94,387.22 134.13,388.07 C130.33,388.93 124.62,390.13 118.92,391.88 C113.21,393.62 106.87,396.79 99.89,398.53 C92.92,400.28 85.31,401.39 77.07,402.34 C68.82,403.29 56.93,403.45 50.44,404.24 C43.94,405.03 40.67,405.57 38.07,407.09 C35.47,408.62 34.84,410.68 34.84,413.37 C34.84,416.07 35.79,419.71 38.07,423.26 C40.35,426.81 44.89,430.87 48.53,434.68 C52.18,438.48 56.14,443.24 59.95,446.09 C63.75,448.94 67.24,451.32 71.36,451.8 C75.48,452.27 79.92,450.84 84.68,448.94 C89.43,447.04 95.93,441.97 99.89,440.38 C103.86,438.8 106.23,438.64 108.45,439.43 C110.67,440.22 113.05,442.44 113.21,445.14 C113.37,447.83 111.62,451.95 109.4,455.6 C107.19,459.25 102.11,463.21 99.89,467.01 C97.67,470.82 96.09,475.1 96.09,478.43 C96.09,481.76 97.36,485.24 99.89,486.99 C102.43,488.73 106.87,489.05 111.31,488.89 C115.75,488.73 121.45,487.46 126.52,486.04 C131.6,484.61 137.3,482.87 141.74,480.33 C146.18,477.79 150.46,474.31 153.16,470.82 C155.85,467.33 157.28,464.16 157.91,459.4 C158.55,454.65 157.75,448.31 156.96,442.28 C156.17,436.26 154.68,429.92 153.16,423.26 C151.63,416.6 149.16,407.89 147.83,402.34 C146.5,396.79 146.18,392.57 145.17,389.97 C144.15,387.37 143.58,387.06 141.74,386.74Z" fill="#e2d7ea"/>
<path d="M147.5,385.6 C148.45,384.43 151.3,384.01 154.73,384.27 C158.15,384.52 162.65,386.33 168.04,387.12 C173.43,387.91 180.73,388.23 187.07,389.02 C193.41,389.81 201.02,389.97 206.09,391.88 C211.16,393.78 214.65,396.79 217.5,400.44 C220.36,404.08 222.89,409 223.21,413.75 C223.53,418.51 221.62,424.21 219.4,428.97 C217.19,433.72 213.7,438.48 209.89,442.28 C206.09,446.09 200.7,449.89 196.58,451.8 C192.46,453.7 188.33,454.33 185.16,453.7 C181.99,453.06 180.09,451.16 177.56,447.99 C175.02,444.82 172.48,439.75 169.95,434.68 C167.41,429.6 164.87,422.95 162.34,417.56 C159.8,412.17 156.95,406.71 154.73,402.34 C152.51,397.96 150.23,394.09 149.02,391.3 C147.82,388.51 146.55,386.77 147.5,385.6Z" fill="#e2d7ea"/>
<path d="M145.08,371.5L136.52,363.89M136.52,363.89L126.06,336.31M126.06,336.31L121.31,317.28M121.31,317.28L120.36,265.92M122.26,321.09L118.45,265.92M122.83,307.77L116.55,277.34M121.31,307.77L114.65,287.8M119.4,311.58L113.7,300.16M120.36,320.14L114.65,309.68M125.11,334.4L117.5,319.19M133.67,357.23L109.89,337.26M130.82,351.52L101.33,318.24M113.7,332.5L89.92,287.8M115.6,334.4L91.82,287.23M109.89,328.7L92.77,294.46M111.8,329.65L96.58,307.77M136.52,363.89L106.09,351.52M106.09,351.52L75.65,330.6M107.99,352.48L77.56,330.6M102.28,348.67L82.31,339.16M109.89,353.43L90.87,346.77M125.11,360.08L69,347.72M121.31,359.13L69.95,349.24M115.6,358.18L78.51,354.38M128.92,361.42L88.02,359.13M145.22,372.48L154.73,362.01M154.73,362.01L157.58,354.4M157.58,354.4L175.65,287.83M158.53,351.55L177.56,288.21M163.29,337.28L169.95,296.39M158.53,348.7L159.48,315.41M160.44,344.89L163.29,317.31M157.58,354.4L194.68,308.37M160.44,350.6L195.63,309.7M168.04,341.09L187.07,316.36M166.14,342.99L179.84,316.36M179.84,316.36L184.21,314.84M154.73,362.01L161.39,360.11M161.39,360.11L213.7,328.72M164.24,358.21L214.65,330.06M168.04,356.31L203.24,331.58M166.14,357.26L192.77,336.33M187.07,349.65L209.89,342.99M183.26,350.6L210.84,346.8M168.04,359.16L223.21,351.55M173.75,358.21L233.67,353.45M164.24,360.11L244.13,356.31M179.46,358.21L244.13,358.21M162.34,361.06L187.07,358.21M144.98,382.94L139.84,389.97M144.98,372.28L144.98,382.94M139.84,389.97L118.92,401.39M118.92,401.39L40.92,410.33M115.11,402.34L41.88,411.85M101.8,405.19L52.34,414.7M96.09,407.09L53.29,420.98M99.89,405.76L54.24,419.08M109.4,404.24L75.16,417.56M111.31,403.86L86.58,416.6M122.72,399.48L72.31,435.63M120.82,400.44L74.21,437.53M109.4,410.9L85.63,436.58M107.5,412.8L88.48,438.48M129.38,395.68L114.16,420.41M139.84,389.97L137.94,402.34M137.94,402.34L102.75,484.13M136.99,408.04L104.65,486.04M132.23,423.26L118.92,468.92M131.28,427.07L123.67,469.87M130.33,430.87L125.57,470.82M135.08,411.85L132.23,440.38M136.04,408.04L137.56,441.33M137.94,402.34L149.35,459.4M138.89,406.14L151.25,461.31M141.74,417.56L150.3,449.89M140.79,413.75L151.25,438.48M145.22,382.94L152.83,388.07M152.83,388.07L202.28,396.63M156.63,389.02L211.8,401.39M168.04,392.83L212.75,404.24M164.24,391.88L200.38,406.14M158.53,390.92L207.99,414.7M162.34,393.78L214.65,421.36M171.85,398.53L216.55,420.41M152.83,388.07L190.87,425.16M156.63,391.88L195.63,429.92M164.24,402.34L184.21,428.02M160.44,397.58L187.07,435.63M152.83,388.07L187.07,448.94M156.63,393.78L189.35,448.94" stroke="#222" stroke-width="0.45" fill="none"/>
<circle cx="119.98" cy="318.62" r="3.3" fill="#737373"/>
<circle cx="105.71" cy="348.29" r="3.3" fill="#737373"/>
<circle cx="181.36" cy="314.46" r="3.3" fill="#737373"/>
<circle cx="196.01" cy="348.7" r="3.3" fill="#737373"/>
<circle cx="79.54" cy="440.76" r="3.3" fill="#737373"/>
<circle cx="131.85" cy="428.59" r="3.3" fill="#737373"/>
<circle cx="192.77" cy="434.68" r="3.3" fill="#737373"/>
<text x="108.4" y="250.9" font-size="11.6" font-weight="bold" fill="#000" text-anchor="start" >H1N1</text>
<text x="184.2" y="281.2" font-size="11.6" font-weight="bold" fill="#000" text-anchor="start" >H2N2</text>
<text x="228.9" y="330" font-size="11.6" font-weight="bold" fill="#000" text-anchor="start" >H7N7</text>
<text x="22.6" y="330.5" font-size="11.6" font-weight="bold" fill="#000" text-anchor="start" >H9N2</text>
<text x="24.8" y="453.7" font-size="11.6" font-weight="bold" fill="#000" text-anchor="start" >H6N1</text>
<text x="212.7" y="453.7" font-size="11.6" font-weight="bold" fill="#000" text-anchor="start" >H5N1</text>
<text x="112.8" y="506" font-size="11.6" font-weight="bold" fill="#000" text-anchor="start" >H3N2</text>
<path d="M186.1,491.4 H205.7" stroke="#555" stroke-width="0.55"/>
<text x="208.6" y="495" font-size="11.6" font-weight="bold" fill="#000" text-anchor="start" >0.3</text></g>
<g id="panelC"><text x="299.2" y="252.6" font-size="18" font-weight="bold" fill="#000" text-anchor="start" >C</text>
<text x="567.3" y="236.3" font-size="13.8" font-weight="bold" fill="#000" text-anchor="middle" >PROTAC for targeting 8 vRNPs</text>
<path d="M565.3,242.2 V260.1" fill="none" stroke="#dcc8b5" stroke-width="0.9"/><path d="M345.9,285 V260.1 H790.3 V285" fill="none" stroke="#d9c9b8" stroke-width="1.25" stroke-linejoin="round"/>
<ellipse cx="505.3" cy="351" rx="88.8" ry="66.5" fill="#e8e8e8"/>
<ellipse cx="713.7" cy="344.3" rx="126.6" ry="67" fill="#cfe4db" transform="rotate(10.5 713.7 344.3)"/>
<path d="M306.17,338.97 C307.91,339.54 312.99,341.57 316.63,342.39 C320.28,343.22 324.24,343.91 328.04,343.91 C331.85,343.91 335.34,343.38 339.46,342.39 C343.58,341.41 348.33,339.29 352.77,338.02 C357.21,336.75 361.97,335.45 366.09,334.78 C370.21,334.12 373.7,333.96 377.5,334.02 C381.31,334.09 385.11,334.44 388.92,335.16 C392.72,335.89 396.52,337.19 400.33,338.4 C404.13,339.6 409.84,341.73 411.74,342.39" stroke="#b868ab" stroke-width="1.9" fill="none" stroke-linecap="round"/>
<path d="M310.92,342.39L309.02,351.33M318.91,344.3L317.77,353.24M327.28,345.06L326.33,354.57M335.65,344.3L335.65,354.57M343.83,342.39L345.16,351.9M351.25,339.92L353.15,348.86M358.48,337.64L360.38,346.58M366.09,335.74L367.61,345.25M374.65,334.78L374.84,345.25M383.21,335.16L381.88,344.68M391.58,336.69L388.92,345.63M399.38,338.78L396.52,348.1M406.99,341.25L403.75,350.95" stroke="#b868ab" stroke-width="1.5" fill="none"/>
<text x="298.94" y="363.7" font-size="11" font-weight="bold" fill="#b05fa3" text-anchor="middle" >5'</text>
<text x="308.64" y="360.84" font-size="11" font-weight="bold" fill="#b05fa3" text-anchor="middle" >C</text>
<text x="316.63" y="363.7" font-size="11" font-weight="bold" fill="#b05fa3" text-anchor="middle" >C</text>
<text x="324.62" y="366.55" font-size="11" font-weight="bold" fill="#b05fa3" text-anchor="middle" >T</text>
<text x="334.13" y="365.22" font-size="11" font-weight="bold" fill="#b05fa3" text-anchor="middle" >T</text>
<text x="342.88" y="363.13" font-size="11" font-weight="bold" fill="#b05fa3" text-anchor="middle" >G</text>
<text x="351.25" y="359.89" font-size="11" font-weight="bold" fill="#b05fa3" text-anchor="middle" >T</text>
<text x="358.86" y="357.04" font-size="11" font-weight="bold" fill="#b05fa3" text-anchor="middle" >T</text>
<text x="366.09" y="356.09" font-size="11" font-weight="bold" fill="#b05fa3" text-anchor="middle" >T</text>
<text x="373.13" y="356.09" font-size="11" font-weight="bold" fill="#b05fa3" text-anchor="middle" >C</text>
<text x="379.79" y="355.14" font-size="11" font-weight="bold" fill="#b05fa3" text-anchor="middle" >T</text>
<text x="387.01" y="357.99" font-size="11" font-weight="bold" fill="#b05fa3" text-anchor="middle" >A</text>
<text x="394.62" y="359.89" font-size="11" font-weight="bold" fill="#b05fa3" text-anchor="middle" >C</text>
<text x="402.23" y="362.75" font-size="11" font-weight="bold" fill="#b05fa3" text-anchor="middle" >T</text>
<text x="410.79" y="365.6" font-size="11" font-weight="bold" fill="#b05fa3" text-anchor="middle" >3'</text>
<path d="M410,343.21Q410.21,345.59 411.77,343.78Q413.33,341.97 413.54,344.35Q413.75,346.73 415.31,344.92Q416.87,343.11 417.08,345.49Q417.29,347.87 418.85,346.06Q420.41,344.25 420.61,346.63Q420.82,349.01 422.38,347.2Q423.94,345.39 424.15,347.77Q424.36,350.15 425.92,348.34Q427.48,346.54 427.69,348.91" stroke="#1c1c1c" stroke-width="1.0" fill="none"/><path d="M427.69,348.91L440.44,340.54" stroke="#1c1c1c" stroke-width="1.05" fill="none" stroke-linecap="round"/><path d="M441.53,340.43L440.2,328.25" stroke="#1c1c1c" stroke-width="1.05" fill="none" stroke-linecap="round"/><path d="M439.34,340.66L438.01,328.49" stroke="#1c1c1c" stroke-width="1.05" fill="none" stroke-linecap="round"/><text x="439.48" y="326.36" font-size="10.4" font-weight="normal" fill="#111" text-anchor="middle" >O</text><path d="M440.44,340.54L452.3,344.17" stroke="#1c1c1c" stroke-width="1.05" fill="none" stroke-linecap="round"/><path d="M470.87,335.41L462.31,320.19" stroke="#1c1c1c" stroke-width="1.05" fill="none" stroke-linecap="round"/><path d="M462.31,320.19L471.82,304.59" stroke="#1c1c1c" stroke-width="1.05" fill="none" stroke-linecap="round"/><path d="M464.89,320L472.83,306.97" stroke="#1c1c1c" stroke-width="1.05" fill="none" stroke-linecap="round"/><path d="M471.82,304.59L489.51,304.59" stroke="#1c1c1c" stroke-width="1.05" fill="none" stroke-linecap="round"/><path d="M489.51,304.59L498.45,320.19" stroke="#1c1c1c" stroke-width="1.05" fill="none" stroke-linecap="round"/><path d="M488.44,306.94L495.89,319.93" stroke="#1c1c1c" stroke-width="1.05" fill="none" stroke-linecap="round"/><path d="M498.45,320.19L489.51,335.41" stroke="#1c1c1c" stroke-width="1.05" fill="none" stroke-linecap="round"/><path d="M489.51,335.41L470.87,335.41" stroke="#1c1c1c" stroke-width="1.05" fill="none" stroke-linecap="round"/><path d="M488.01,333.31L472.37,333.31" stroke="#1c1c1c" stroke-width="1.05" fill="none" stroke-linecap="round"/><path d="M460.36,342.84L470.87,335.41" stroke="#1c1c1c" stroke-width="1.05" fill="none" stroke-linecap="round"/><path d="M489.51,335.41L499.4,350.63" stroke="#1c1c1c" stroke-width="1.05" fill="none" stroke-linecap="round"/><path d="M499.4,350.63L499.4,366.8" stroke="#1c1c1c" stroke-width="1.05" fill="none" stroke-linecap="round"/><path d="M497.2,351.63L497.2,365.8" stroke="#1c1c1c" stroke-width="1.05" fill="none" stroke-linecap="round"/><path d="M487.04,378.21L468.02,378.21" stroke="#1c1c1c" stroke-width="1.05" fill="none" stroke-linecap="round"/><path d="M485.54,380.31L469.52,380.31" stroke="#1c1c1c" stroke-width="1.05" fill="none" stroke-linecap="round"/><path d="M468.02,378.21L458.51,394.38" stroke="#1c1c1c" stroke-width="1.05" fill="none" stroke-linecap="round"/><path d="M458.51,394.38L467.07,409.6" stroke="#1c1c1c" stroke-width="1.05" fill="none" stroke-linecap="round"/><path d="M461.07,394.66L468.16,407.26" stroke="#1c1c1c" stroke-width="1.05" fill="none" stroke-linecap="round"/><path d="M467.07,409.6L485.14,409.6" stroke="#1c1c1c" stroke-width="1.05" fill="none" stroke-linecap="round"/><path d="M485.14,409.6L493.7,394.38" stroke="#1c1c1c" stroke-width="1.05" fill="none" stroke-linecap="round"/><path d="M484.04,407.26L491.13,394.66" stroke="#1c1c1c" stroke-width="1.05" fill="none" stroke-linecap="round"/><path d="M493.7,394.38L487.04,378.21" stroke="#1c1c1c" stroke-width="1.05" fill="none" stroke-linecap="round"/><path d="M499.4,366.8L487.04,378.21" stroke="#1c1c1c" stroke-width="1.05" fill="none" stroke-linecap="round"/><path d="M456.6,350.49L456.6,364.89" stroke="#1c1c1c" stroke-width="1.05" fill="none" stroke-linecap="round"/><path d="M456.6,364.89L468.02,378.21" stroke="#1c1c1c" stroke-width="1.05" fill="none" stroke-linecap="round"/><text x="456.6" y="349.18" font-size="10.4" font-weight="normal" fill="#111" text-anchor="middle" >N</text><path d="M499.4,350.63L513.63,344.47" stroke="#1c1c1c" stroke-width="1.05" fill="none" stroke-linecap="round"/><path d="M520.31,346.99L525.48,356.16" stroke="#1c1c1c" stroke-width="1.05" fill="none" stroke-linecap="round"/><path d="M523.57,363.15L518.22,368.02" stroke="#1c1c1c" stroke-width="1.05" fill="none" stroke-linecap="round"/><path d="M524.91,364.62L519.56,369.5" stroke="#1c1c1c" stroke-width="1.05" fill="none" stroke-linecap="round"/><path d="M510.64,370.59L499.4,366.8" stroke="#1c1c1c" stroke-width="1.05" fill="none" stroke-linecap="round"/><text x="517.86" y="346.33" font-size="10.4" font-weight="normal" fill="#111" text-anchor="middle" >N</text><text x="527.94" y="364.21" font-size="10.4" font-weight="normal" fill="#111" text-anchor="middle" >N</text><text x="515.19" y="375.81" font-size="10.4" font-weight="normal" fill="#111" text-anchor="middle" >N</text><path d="M522.24,340.67L532.69,335.98" stroke="#1c1c1c" stroke-width="1.05" fill="none" stroke-linecap="round"/><path d="M532.69,335.98L541.9,341.43" stroke="#1c1c1c" stroke-width="1.05" fill="none" stroke-linecap="round"/><path d="M541.9,341.43L549.52,345.81" stroke="#1c1c1c" stroke-width="1.05" fill="none" stroke-linecap="round"/><path d="M549.52,345.81L560.25,337.45" stroke="#1c1c1c" stroke-width="1.05" fill="none" stroke-linecap="round"/><path d="M568.4,337.08L574.29,340.86" stroke="#1c1c1c" stroke-width="1.05" fill="none" stroke-linecap="round"/><path d="M574.29,340.86L582.86,345.24" stroke="#1c1c1c" stroke-width="1.05" fill="none" stroke-linecap="round"/><path d="M582.86,345.24L595.24,336.67" stroke="#1c1c1c" stroke-width="1.05" fill="none" stroke-linecap="round"/><text x="564.19" y="338.29" font-size="11" font-weight="bold" fill="#111" text-anchor="middle" >O</text><path d="M543.24,332.48Q538.64,341.43 543.24,350.38" stroke="#1c1c1c" stroke-width="0.9" fill="none"/><path d="M583.81,331.9Q588.41,340.95 583.81,350" stroke="#1c1c1c" stroke-width="0.9" fill="none"/><text x="590.1" y="348.67" font-size="10.6" font-weight="bold" fill="#111" text-anchor="middle" >3</text><path d="M596.34,336.67L596.34,324.34" stroke="#1c1c1c" stroke-width="1.05" fill="none" stroke-linecap="round"/><path d="M594.14,336.67L594.14,324.34" stroke="#1c1c1c" stroke-width="1.05" fill="none" stroke-linecap="round"/><text x="595.24" y="323.05" font-size="11" font-weight="bold" fill="#111" text-anchor="middle" >O</text><path d="M595.24,336.67L605.21,340.83" stroke="#1c1c1c" stroke-width="1.05" fill="none" stroke-linecap="round"/><text x="610.29" y="346.86" font-size="11" font-weight="bold" fill="#111" text-anchor="middle" >N</text><text x="610.67" y="357.14" font-size="11" font-weight="bold" fill="#111" text-anchor="middle" >H</text><path d="M625.76,337.43L625.48,336.74" stroke="#1c1c1c" stroke-width="0.7" fill="none" stroke-linecap="round"/><path d="M624.09,338.33L623.66,337.24" stroke="#1c1c1c" stroke-width="0.7" fill="none" stroke-linecap="round"/><path d="M622.42,339.22L621.83,337.75" stroke="#1c1c1c" stroke-width="0.7" fill="none" stroke-linecap="round"/><path d="M620.75,340.11L620.01,338.25" stroke="#1c1c1c" stroke-width="0.7" fill="none" stroke-linecap="round"/><path d="M619.08,341L618.19,338.76" stroke="#1c1c1c" stroke-width="0.7" fill="none" stroke-linecap="round"/><path d="M617.42,341.89L616.36,339.26" stroke="#1c1c1c" stroke-width="0.7" fill="none" stroke-linecap="round"/><path d="M626.67,336.67L626.67,316.67" stroke="#1c1c1c" stroke-width="1.05" fill="none" stroke-linecap="round"/><path d="M626.67,316.67L611.05,309.05" stroke="#1c1c1c" stroke-width="1.05" fill="none" stroke-linecap="round"/><path d="M626.67,316.67L626.67,300.48" stroke="#1c1c1c" stroke-width="1.05" fill="none" stroke-linecap="round"/><path d="M626.67,316.67L642.29,309.05" stroke="#1c1c1c" stroke-width="1.05" fill="none" stroke-linecap="round"/><path d="M626.67,336.67L644.76,340.86" stroke="#1c1c1c" stroke-width="1.05" fill="none" stroke-linecap="round"/><path d="M643.71,341.19L646.92,351.46" stroke="#1c1c1c" stroke-width="1.05" fill="none" stroke-linecap="round"/><path d="M645.81,340.53L649.02,350.8" stroke="#1c1c1c" stroke-width="1.05" fill="none" stroke-linecap="round"/><text x="649.52" y="360" font-size="11" font-weight="bold" fill="#111" text-anchor="middle" >O</text><path d="M644.76,340.86L652.96,331.19" stroke="#1c1c1c" stroke-width="1.05" fill="none" stroke-linecap="round"/><path d="M655.11,322.5L652.38,310.24" stroke="#1c1c1c" stroke-width="1.05" fill="none" stroke-linecap="round"/><path d="M652.38,310.24L668.1,300.24" stroke="#1c1c1c" stroke-width="1.05" fill="none" stroke-linecap="round"/><path d="M668.1,300.24L681.67,312.62" stroke="#1c1c1c" stroke-width="1.05" fill="none" stroke-linecap="round"/><path d="M681.67,312.62L675.71,328.1" stroke="#1c1c1c" stroke-width="1.05" fill="none" stroke-linecap="round"/><path d="M675.71,328.1L660.99,327.56" stroke="#1c1c1c" stroke-width="1.05" fill="none" stroke-linecap="round"/><text x="656.19" y="331.29" font-size="11" font-weight="bold" fill="#111" text-anchor="middle" >N</text><path d="M668.1,300.24L667.55,288.68L670.54,288.93Z" fill="#1c1c1c"/><text x="674.52" y="285.48" font-size="11" font-weight="bold" fill="#111" text-anchor="middle" >OH</text><path d="M676.66,329.27L675.99,329.58" stroke="#1c1c1c" stroke-width="0.7" fill="none" stroke-linecap="round"/><path d="M677.85,331.4L676.84,331.87" stroke="#1c1c1c" stroke-width="0.7" fill="none" stroke-linecap="round"/><path d="M679.05,333.53L677.69,334.16" stroke="#1c1c1c" stroke-width="0.7" fill="none" stroke-linecap="round"/><path d="M680.25,335.66L678.53,336.45" stroke="#1c1c1c" stroke-width="0.7" fill="none" stroke-linecap="round"/><path d="M681.44,337.79L679.38,338.74" stroke="#1c1c1c" stroke-width="0.7" fill="none" stroke-linecap="round"/><path d="M682.64,339.92L680.22,341.03" stroke="#1c1c1c" stroke-width="0.7" fill="none" stroke-linecap="round"/><path d="M683.83,342.05L681.07,343.33" stroke="#1c1c1c" stroke-width="0.7" fill="none" stroke-linecap="round"/><path d="M681.85,343.14L676.75,355.03" stroke="#1c1c1c" stroke-width="1.05" fill="none" stroke-linecap="round"/><path d="M683.87,344L678.77,355.89" stroke="#1c1c1c" stroke-width="1.05" fill="none" stroke-linecap="round"/><text x="675.71" y="364.14" font-size="11" font-weight="bold" fill="#111" text-anchor="middle" >O</text><path d="M682.86,343.57L695.24,342.62" stroke="#1c1c1c" stroke-width="1.05" fill="none" stroke-linecap="round"/><text x="704.29" y="345.95" font-size="11" font-weight="bold" fill="#111" text-anchor="middle" >HN</text><path d="M715.71,341.43L725.71,335.95" stroke="#1c1c1c" stroke-width="1.05" fill="none" stroke-linecap="round"/><path d="M725.71,335.95L741.19,347.14" stroke="#1c1c1c" stroke-width="1.05" fill="none" stroke-linecap="round"/><path d="M741.19,347.14L757.14,340" stroke="#1c1c1c" stroke-width="1.05" fill="none" stroke-linecap="round"/><path d="M743.42,348.45L756.63,342.53" stroke="#1c1c1c" stroke-width="1.05" fill="none" stroke-linecap="round"/><path d="M757.14,340L771.43,350.24" stroke="#1c1c1c" stroke-width="1.05" fill="none" stroke-linecap="round"/><path d="M771.43,350.24L769.76,366.9" stroke="#1c1c1c" stroke-width="1.05" fill="none" stroke-linecap="round"/><path d="M769.19,351.52L767.82,365.2" stroke="#1c1c1c" stroke-width="1.05" fill="none" stroke-linecap="round"/><path d="M769.76,366.9L753.81,375" stroke="#1c1c1c" stroke-width="1.05" fill="none" stroke-linecap="round"/><path d="M753.81,375L739.29,364.52" stroke="#1c1c1c" stroke-width="1.05" fill="none" stroke-linecap="round"/><path d="M753.82,372.42L741.73,363.7" stroke="#1c1c1c" stroke-width="1.05" fill="none" stroke-linecap="round"/><path d="M739.29,364.52L741.19,347.14" stroke="#1c1c1c" stroke-width="1.05" fill="none" stroke-linecap="round"/><path d="M769.76,366.9L784.05,376.9" stroke="#1c1c1c" stroke-width="1.05" fill="none" stroke-linecap="round"/><path d="M784.05,376.9L784.22,391.23" stroke="#1c1c1c" stroke-width="1.05" fill="none" stroke-linecap="round"/><path d="M789.09,397.82L800.71,401.19" stroke="#1c1c1c" stroke-width="1.05" fill="none" stroke-linecap="round"/><path d="M800.71,401.19L808.85,391.32" stroke="#1c1c1c" stroke-width="1.05" fill="none" stroke-linecap="round"/><path d="M802.64,402L810.01,393.06" stroke="#1c1c1c" stroke-width="1.05" fill="none" stroke-linecap="round"/><path d="M809.15,383.69L801.9,373.33" stroke="#1c1c1c" stroke-width="1.05" fill="none" stroke-linecap="round"/><path d="M801.9,373.33L784.05,376.9" stroke="#1c1c1c" stroke-width="1.05" fill="none" stroke-linecap="round"/><path d="M801.32,375.49L785.42,378.67" stroke="#1c1c1c" stroke-width="1.05" fill="none" stroke-linecap="round"/><text x="784.29" y="400.33" font-size="11" font-weight="bold" fill="#111" text-anchor="middle" >S</text><text x="811.9" y="391.52" font-size="11" font-weight="bold" fill="#111" text-anchor="middle" >N</text><path d="M801.9,373.33L806.67,360.71" stroke="#1c1c1c" stroke-width="1.05" fill="none" stroke-linecap="round"/><text x="803.33" y="360.24" font-size="11" font-weight="bold" fill="#111" text-anchor="start" >CH3</text>
<path d="M305.2,418.8 V435.7 H410.3 V418.8 M421.4,418.8 V435.7 H590.4 V418.8 M600.5,418.8 V435.7 H822 V418.8" fill="none" stroke="#666" stroke-width="1"/>
<text x="355.9" y="453.7" font-size="12" font-weight="bold" fill="#a3267c" text-anchor="middle" >Target vRNA Ligand</text>
<text x="356.6" y="468.2" font-size="12" font-weight="bold" fill="#231f20" text-anchor="middle" >(TRL)</text>
<text x="509.4" y="453.7" font-size="12" font-weight="bold" fill="#8a8a8a" text-anchor="middle" >Linker</text>
<text x="719.5" y="453.7" font-size="12" font-weight="bold" fill="#1a9850" text-anchor="middle" >VHL Ligand</text>
<text x="718.2" y="468.3" font-size="12" font-weight="bold" fill="#231f20" text-anchor="middle" >(VHLL)</text>
<g transform="translate(0,0) scale(1,1)"><path d="M452.43,474.28 C453.75,474.85 457.61,476.85 460.36,477.71 C463.11,478.57 465.53,479.43 468.93,479.43 C472.32,479.43 476.25,478.85 480.71,477.71 C485.18,476.57 490.71,473.85 495.71,472.57 C500.71,471.28 506.42,470.32 510.71,470 C514.99,469.68 517.85,469.93 521.42,470.64 C524.99,471.35 528.92,473.03 532.14,474.28 C535.35,475.53 539.28,477.5 540.71,478.14" stroke="#bd76b4" stroke-width="1.7" fill="none" stroke-linecap="round"/><path d="M456.71,476.85L454.57,485.85M463.14,478.78L461.86,488M470,479.43L469.57,488.85M477.5,478.57L477.71,488.43M484.57,476.64L485.43,486.28M491,474.28L492.28,483.93M497,472.35L498.5,482M503.42,470.85L504.71,480.28M510.28,470.21L510.71,479.85M516.71,470.21L516.28,479.85M523.14,471.28L521.64,480.71M528.92,473L526.78,482.21M534.71,475.35L532.14,484.35M539.85,477.93L536.85,486.07" stroke="#bd76b4" stroke-width="1.4" fill="none"/><path d="M540.71,478.14 C542.49,477.96 548.21,476.28 551.42,477.07 C554.63,477.85 557.13,480.53 559.99,482.85 C562.85,485.18 565.71,489.57 568.56,491 C571.42,492.42 574.81,492 577.13,491.42 C579.45,490.85 581.6,488.21 582.49,487.57" stroke="#777" stroke-width="1.6" fill="none"/><ellipse cx="590.63" cy="480.07" rx="14.8" ry="12.2" fill="#0f9148" transform="rotate(38 590.63 480.07)"/></g></g>
<g id="panelD"><text x="1.5" y="524.6" font-size="18" font-weight="bold" fill="#000" text-anchor="start" >D</text>
<text x="451" y="533" font-size="13.8" font-weight="bold" fill="#000" text-anchor="middle" >Degradation of multiple proteins</text>
<path d="M447.5,540 V558.6 M119.4,583.8 V558.6 H784 V583.8" fill="none" stroke="#d9c8b4" stroke-width="1.15" stroke-linejoin="round"/>
<g transform="translate(-302.3,512.2) scale(1)"><circle cx="352.41" cy="101.16" r="7.5" fill="#e6e8ea" stroke="#9a9d9e" stroke-width="0.85"/><circle cx="335.45" cy="105.18" r="7.5" fill="#e6e8ea" stroke="#9a9d9e" stroke-width="0.85"/><circle cx="327.41" cy="116.79" r="7.5" fill="#e6e8ea" stroke="#9a9d9e" stroke-width="0.85"/><circle cx="326.07" cy="129.73" r="7.5" fill="#e6e8ea" stroke="#9a9d9e" stroke-width="0.85"/><circle cx="338.57" cy="128.84" r="7.5" fill="#e6e8ea" stroke="#9a9d9e" stroke-width="0.85"/><circle cx="343.04" cy="114.55" r="7.5" fill="#e6e8ea" stroke="#9a9d9e" stroke-width="0.85"/><circle cx="359.55" cy="109.2" r="7.5" fill="#e6e8ea" stroke="#9a9d9e" stroke-width="0.85"/><circle cx="355.98" cy="129.29" r="7.5" fill="#e6e8ea" stroke="#9a9d9e" stroke-width="0.85"/><circle cx="349.73" cy="122.59" r="7.5" fill="#e6e8ea" stroke="#9a9d9e" stroke-width="0.85"/><circle cx="364.02" cy="139.11" r="7.5" fill="#e6e8ea" stroke="#9a9d9e" stroke-width="0.85"/><circle cx="373.39" cy="125.27" r="7.5" fill="#e6e8ea" stroke="#9a9d9e" stroke-width="0.85"/><circle cx="366.25" cy="117.23" r="7.5" fill="#e6e8ea" stroke="#9a9d9e" stroke-width="0.85"/><circle cx="390.71" cy="101.19" r="7.5" fill="#e6e8ea" stroke="#9a9d9e" stroke-width="0.85"/><circle cx="380.24" cy="112.62" r="7.5" fill="#e6e8ea" stroke="#9a9d9e" stroke-width="0.85"/><circle cx="380.71" cy="134.05" r="7.5" fill="#e6e8ea" stroke="#9a9d9e" stroke-width="0.85"/><circle cx="390.24" cy="123.57" r="7.5" fill="#e6e8ea" stroke="#9a9d9e" stroke-width="0.85"/><circle cx="406.9" cy="96.9" r="7.5" fill="#e6e8ea" stroke="#9a9d9e" stroke-width="0.85"/><circle cx="397.86" cy="109.29" r="7.5" fill="#e6e8ea" stroke="#9a9d9e" stroke-width="0.85"/><circle cx="404.52" cy="117.86" r="7.5" fill="#e6e8ea" stroke="#9a9d9e" stroke-width="0.85"/><circle cx="414.52" cy="105.48" r="7.5" fill="#e6e8ea" stroke="#9a9d9e" stroke-width="0.85"/><circle cx="411.19" cy="125.95" r="7.5" fill="#e6e8ea" stroke="#9a9d9e" stroke-width="0.85"/><circle cx="417.86" cy="134.52" r="7.5" fill="#e6e8ea" stroke="#9a9d9e" stroke-width="0.85"/><circle cx="427.86" cy="122.14" r="7.5" fill="#e6e8ea" stroke="#9a9d9e" stroke-width="0.85"/><circle cx="421.19" cy="113.57" r="7.5" fill="#e6e8ea" stroke="#9a9d9e" stroke-width="0.85"/><circle cx="434.05" cy="107.38" r="7.5" fill="#e6e8ea" stroke="#9a9d9e" stroke-width="0.85"/><circle cx="434.05" cy="131.67" r="7.5" fill="#e6e8ea" stroke="#9a9d9e" stroke-width="0.85"/><circle cx="440.71" cy="120.24" r="7.5" fill="#e6e8ea" stroke="#9a9d9e" stroke-width="0.85"/><path d="M428.33,115.48 C428.1,114.68 426.98,112.22 426.9,110.71 C426.83,109.21 426.75,107.62 427.86,106.43 C428.97,105.24 431.51,103.97 433.57,103.57 C435.63,103.17 438.73,103.65 440.24,104.05 C441.75,104.44 442.22,105.63 442.62,105.95" fill="none" stroke="#d5612a" stroke-width="1.25"/><path d="M441.5,111.67 C441.61,108.31 441.3,104.03 442.11,101.28 C442.93,98.53 444.56,96.54 446.39,95.17 C448.23,93.81 450.77,93.3 453.12,93.09 C455.46,92.89 458.66,93.3 460.45,93.95 C462.25,94.6 463.06,94.87 463.88,97 C464.69,99.14 465.71,102.71 465.34,106.78 C464.98,110.86 463.92,117.99 461.67,121.45 C459.43,124.92 454.95,126.75 451.89,127.57 C448.84,128.38 445.07,127.36 443.34,126.34 C441.61,125.33 441.81,123.9 441.5,121.45 C441.2,119.01 441.4,115.04 441.5,111.67Z" fill="#6e7bb4"/><path d="M455.56,103.73 C456.58,100.77 458.62,99.39 460.45,97.62 C462.29,95.84 464.63,94.05 466.56,93.09 C468.5,92.14 470.33,91.87 472.07,91.87 C473.8,91.87 475.88,92.03 476.96,93.09 C478.04,94.15 477.02,97.17 478.55,98.23 C480.07,99.29 483.64,99.14 486.12,99.45 C488.61,99.76 491.67,99.76 493.46,100.06 C495.25,100.37 496.27,99.76 496.88,101.28 C497.49,102.81 496.64,106.89 497.13,109.23 C497.62,111.57 499.25,113 499.82,115.34 C500.39,117.69 501.3,121.25 500.55,123.29 C499.8,125.33 496.78,125.84 495.29,127.57 C493.81,129.3 493.36,131.85 491.63,133.68 C489.89,135.51 487.04,136.94 484.9,138.57 C482.76,140.2 480.93,142.48 478.79,143.46 C476.65,144.44 473.8,145.05 472.07,144.44 C470.33,143.83 470.13,142.2 468.4,139.79 C466.67,137.39 464.02,134.09 461.67,130.01 C459.33,125.94 455.36,119.72 454.34,115.34 C453.32,110.96 454.54,106.68 455.56,103.73Z" fill="#a4d4ec"/><path d="M492.6,112.29 C492.97,110.74 494.7,108.39 495.66,108.5 C496.62,108.6 497.6,111.45 498.35,112.9 C499.1,114.34 499.78,115.65 500.18,117.18 C500.59,118.7 501.26,120.42 500.79,122.07 C500.33,123.72 498.49,126.77 497.37,127.08 C496.25,127.38 494.72,125.45 494.07,123.9 C493.42,122.35 493.7,119.72 493.46,117.79 C493.22,115.85 492.24,113.83 492.6,112.29Z" fill="#8da5d8"/><path d="M452.51,111.67 C453.69,109.74 455.97,106.83 458.01,105.56 C460.04,104.3 463.06,103.59 464.73,104.1 C466.4,104.6 466.34,107.4 468.03,108.62 C469.72,109.84 473.37,110 474.88,111.43 C476.39,112.86 477.14,114.28 477.08,117.18 C477.02,120.07 475.35,125.33 474.51,128.79 C473.68,132.25 473.29,135.51 472.07,137.96 C470.84,140.4 469.62,142.24 467.18,143.46 C464.73,144.68 460.66,144.72 457.4,145.29 C454.14,145.86 450.16,147.49 447.62,146.88 C445.07,146.27 443.64,143.93 442.11,141.63 C440.59,139.32 438.69,135.62 438.45,133.07 C438.2,130.52 438.92,127.87 440.65,126.34 C442.38,124.82 447.13,125.43 448.84,123.9 C450.55,122.37 450.31,119.21 450.92,117.18 C451.53,115.14 451.32,113.61 452.51,111.67Z" fill="#6c9dcf"/><path d="M452.87,111.43 C452.87,109.39 456.03,106.78 458.01,105.56 C459.98,104.34 463.06,103.59 464.73,104.1 C466.4,104.6 466.34,107.4 468.03,108.62 C469.72,109.84 473.37,110 474.88,111.43 C476.39,112.86 476.94,115.1 477.08,117.18 C477.22,119.25 476.67,121.96 475.73,123.9 C474.8,125.84 473.19,128.79 471.45,128.79 C469.72,128.79 467.58,125.73 465.34,123.9 C463.1,122.07 460.09,119.87 458.01,117.79 C455.93,115.71 452.87,113.47 452.87,111.43Z" fill="#7aa7d6"/><path d="M345.71,129.29 C344.67,130.18 341.7,133.38 339.46,134.64 C337.23,135.91 334.55,137.02 332.32,136.88 C330.09,136.73 327.49,135.61 326.07,133.75 C324.66,131.89 324.14,128.1 323.84,125.71 C323.54,123.33 324.66,121.4 324.29,119.46 C323.91,117.53 322.8,115.6 321.61,114.11 C320.42,112.62 318.48,111.8 317.14,110.54 C315.8,109.27 313.87,107.71 313.57,106.52 C313.27,105.33 314.46,103.47 315.36,103.39 C316.25,103.32 317.59,104.73 318.93,106.07 C320.27,107.41 321.9,110.24 323.39,111.43 C324.88,112.62 326.22,113.66 327.86,113.21 C329.49,112.77 331.43,110.61 333.21,108.75 C335,106.89 337.31,102.95 338.57,102.05 C339.84,101.16 340.21,102.28 340.8,103.39 C341.4,104.51 341.03,106.82 342.14,108.75 C343.26,110.68 346.31,112.92 347.5,115 C348.69,117.08 349.36,119.46 349.29,121.25 C349.21,123.04 346.9,124.52 347.05,125.71 C347.2,126.9 348.62,127.65 350.18,128.39 C351.74,129.14 354.35,128.99 356.43,130.18 C358.51,131.37 361.04,133.97 362.68,135.54 C364.32,137.1 365.13,139.11 366.25,139.55 C367.37,140 368.56,139.48 369.38,138.21 C370.19,136.95 370.86,133.01 371.16,131.96 M369.29,110.24 C370.16,109.76 373.1,108.17 374.52,107.38 C375.95,106.59 377.86,106.43 377.86,105.48 C377.86,104.52 375.56,103.17 374.52,101.67 C373.49,100.16 371.98,97.7 371.67,96.43 C371.35,95.16 372.06,94.13 372.62,94.05 C373.17,93.97 374.05,94.76 375,95.95 C375.95,97.14 377.22,99.76 378.33,101.19 C379.44,102.62 380.48,104.21 381.67,104.52 C382.86,104.84 384.37,104.13 385.48,103.1 C386.59,102.06 387.46,99.76 388.33,98.33 C389.21,96.9 389.68,95.16 390.71,94.52 C391.75,93.89 393.65,94.05 394.52,94.52 C395.4,95 395.95,95.79 395.95,97.38 C395.95,98.97 394.44,102.14 394.52,104.05 C394.6,105.95 395.32,107.46 396.43,108.81 C397.54,110.16 399.6,111.19 401.19,112.14 C402.78,113.1 404.6,113.49 405.95,114.52 C407.3,115.56 408.65,116.59 409.29,118.33 C409.92,120.08 409.21,122.94 409.76,125 C410.32,127.06 411.98,129.13 412.62,130.71 C413.25,132.3 413.89,133.41 413.57,134.52 C413.25,135.63 411.83,136.51 410.71,137.38 C409.6,138.25 407.7,139.13 406.9,139.76 C406.11,140.4 405.63,140.83 405.95,141.19 C406.27,141.56 407.38,142.27 408.81,141.95 C410.24,141.63 412.62,140.68 414.52,139.29 C416.43,137.89 418.33,135.4 420.24,133.57 C422.14,131.75 425,129.21 425.95,128.33" fill="none" stroke="#d5612a" stroke-width="1.25" stroke-linejoin="round"/><path d="M425.95,128.33 C427.54,127.78 432.94,125.95 435.48,125 C438.02,124.05 440.59,122.8 441.19,122.62 C441.79,122.44 439.41,123.69 439.06,123.9 M425.95,132.14 C427.54,131.9 433.29,130.97 435.48,130.71 C437.66,130.46 438.46,130.64 439.06,130.62" fill="none" stroke="#d5612a" stroke-width="1.2" stroke-dasharray="1.8 1.3"/><path d="M439.06,123.9 C439.98,123.19 442.83,120.88 444.56,119.62 C446.29,118.36 447,117.81 449.45,116.32 C451.89,114.83 455.77,112.16 459.23,110.7 C462.69,109.23 466.77,107.89 470.23,107.52 C473.7,107.15 476.55,107.6 480.01,108.5 C483.48,109.39 487.8,111.25 491.01,112.9 C494.23,114.55 497.98,116.87 499.33,118.4 C500.67,119.93 499.12,121.45 499.08,122.07 M439.06,130.62 C439.77,130.15 441.61,128.73 443.34,127.81 C445.07,126.89 446.39,126 449.45,125.12 C452.51,124.25 457.6,122.84 461.67,122.56 C465.75,122.27 470.64,122.58 473.9,123.41 C477.16,124.25 479.4,126.1 481.23,127.57 C483.07,129.03 484.29,130.91 484.9,132.21 C485.51,133.52 485.47,134.82 484.9,135.39 C484.33,135.96 482.05,135.59 481.48,135.64" fill="none" stroke="#d5612a" stroke-width="1.3" stroke-linejoin="round"/><path d="M442.24,121.42 L443,125.01 M446.54,118.29 L447.22,121.93 M451.01,115.42 L451.62,119.11 M455.62,112.77 L456.24,116.46 M460.34,110.37 L460.68,114.18 M465.45,108.9 L465.79,112.7 M470.58,107.55 L470.45,111.4 M475.87,108.08 L475.75,111.93 M481.08,108.93 L480.63,112.69 M486.02,110.9 L485.57,114.66 M490.96,112.88 L490.51,116.64 M495.4,115.8 L494.73,119.45 M441.19,129.23 L441.82,132.67 M445.27,126.96 L445.73,130.5 M449.56,125.1 L449.8,128.7 M454.14,124.14 L454.38,127.74 M458.72,123.17 L458.96,126.78 M463.34,122.67 L463.26,126.3 M468.01,123 L467.93,126.63 M472.68,123.33 L472.6,126.95 M476.91,125.12 L476.34,128.6 M480.98,127.42 L480.41,130.9 M483.96,131.01 L483.05,134.21" fill="none" stroke="#d5612a" stroke-width="1.15"/><text x="502.3" y="125.9" font-size="9.7" font-weight="bold" fill="#111" text-anchor="start" >3'</text><text x="483.9" y="143.8" font-size="9.7" font-weight="bold" fill="#111" text-anchor="start" >5'</text></g>
<text x="286" y="620.5" font-size="12" font-weight="bold" fill="#231f20" text-anchor="middle" >PROTAC</text>
<path d="M238,631.3 H329.5" stroke="#111" stroke-width="1" fill="none"/><path d="M335.5,631.3 L326.3,627.5 L328.5,631.3 L326.3,635.1Z" fill="#111"/>
<g transform="translate(-20.2,326.9) scale(0.578,0.68)"><path d="M452.43,474.28 C453.75,474.85 457.61,476.85 460.36,477.71 C463.11,478.57 465.53,479.43 468.93,479.43 C472.32,479.43 476.25,478.85 480.71,477.71 C485.18,476.57 490.71,473.85 495.71,472.57 C500.71,471.28 506.42,470.32 510.71,470 C514.99,469.68 517.85,469.93 521.42,470.64 C524.99,471.35 528.92,473.03 532.14,474.28 C535.35,475.53 539.28,477.5 540.71,478.14" stroke="#bd76b4" stroke-width="2.5" fill="none" stroke-linecap="round"/><path d="M456.71,476.85L454.57,485.85M463.14,478.78L461.86,488M470,479.43L469.57,488.85M477.5,478.57L477.71,488.43M484.57,476.64L485.43,486.28M491,474.28L492.28,483.93M497,472.35L498.5,482M503.42,470.85L504.71,480.28M510.28,470.21L510.71,479.85M516.71,470.21L516.28,479.85M523.14,471.28L521.64,480.71M528.92,473L526.78,482.21M534.71,475.35L532.14,484.35M539.85,477.93L536.85,486.07" stroke="#bd76b4" stroke-width="2.1" fill="none"/><path d="M540.71,478.14 C542.49,477.96 548.21,476.28 551.42,477.07 C554.63,477.85 557.13,480.53 559.99,482.85 C562.85,485.18 565.71,489.57 568.56,491 C571.42,492.42 574.81,492 577.13,491.42 C579.45,490.85 581.6,488.21 582.49,487.57" stroke="#777" stroke-width="2.2" fill="none"/><ellipse cx="590.63" cy="480.07" rx="14.8" ry="12.2" fill="#0f9148" transform="rotate(38 590.63 480.07)"/></g>
<path d="M452.25,657.36 C453.9,657.42 457.98,658.27 459.67,658.1 C461.36,657.94 461.64,656.12 462.39,656.37 C463.13,656.62 463.54,657.77 464.12,659.59 C464.69,661.4 465.35,664.74 465.85,667.25 C466.34,669.76 466.55,672.61 467.08,674.67 C467.62,676.73 468.11,678.46 469.06,679.61 C470.01,680.76 471.24,681.57 472.77,681.59 C474.29,681.61 476.6,680.56 478.21,679.73 C479.81,678.91 481.57,678 482.41,676.64 C483.26,675.28 482.64,673.14 483.28,671.58 C483.91,670.01 485.44,668.79 486.24,667.25 C487.05,665.7 487.6,663.93 488.1,662.31 C488.59,660.68 488.38,658.51 489.21,657.48 C490.03,656.45 491.37,656.15 493.04,656.12 C494.71,656.1 497.37,656.54 499.22,657.36 C501.08,658.19 503.11,659.63 504.17,661.07 C505.22,662.51 505.01,664.26 505.53,666.01 C506.04,667.76 506.84,669.82 507.26,671.58 C507.67,673.33 508.29,674.98 508,676.52 C507.71,678.07 506.14,679.3 505.53,680.85 C504.91,682.39 505.11,683.94 504.29,685.79 C503.47,687.65 502.02,690.12 500.58,691.97 C499.14,693.83 497.28,695.56 495.64,696.92 C493.99,698.28 492.26,699.72 490.69,700.13 C489.13,700.54 488.12,699.31 486.24,699.39 C484.37,699.47 482.02,700.32 479.44,700.62 C476.87,700.93 474.19,701.08 470.79,701.24 C467.39,701.41 461.73,701.28 459.05,701.61 C456.37,701.94 456.27,703.26 454.72,703.22 C453.18,703.18 451.32,702.4 449.78,701.37 C448.23,700.34 446.69,698.79 445.45,697.04 C444.22,695.29 443.49,693.13 442.36,690.86 C441.23,688.59 439.58,685.71 438.65,683.44 C437.73,681.18 436.9,679.32 436.8,677.26 C436.7,675.2 437.31,673.14 438.03,671.08 C438.76,669.02 439.89,666.76 441.12,664.9 C442.36,663.05 444.01,661.15 445.45,659.96 C446.89,658.76 448.64,658.16 449.78,657.73 C450.91,657.3 450.6,657.3 452.25,657.36Z" fill="#62a2a8" stroke="#4b9097" stroke-width="1.1" stroke-linejoin="round"/>
<ellipse cx="448.54" cy="669.72" rx="5.56" ry="3.46" fill="#59999f" opacity="0.75" transform="rotate(-40 448.54 669.72)"/>
<ellipse cx="444.83" cy="684.56" rx="3.71" ry="5.56" fill="#59999f" opacity="0.75" transform="rotate(10 444.83 684.56)"/>
<ellipse cx="460.9" cy="694.44" rx="6.18" ry="3.09" fill="#59999f" opacity="0.75" transform="rotate(10 460.9 694.44)"/>
<ellipse cx="496.75" cy="667.25" rx="4.94" ry="3.71" fill="#59999f" opacity="0.75" transform="rotate(30 496.75 667.25)"/>
<ellipse cx="499.22" cy="682.08" rx="4.33" ry="6.18" fill="#59999f" opacity="0.75" transform="rotate(20 499.22 682.08)"/>
<ellipse cx="488.1" cy="693.21" rx="6.18" ry="3.09" fill="#59999f" opacity="0.75" transform="rotate(-30 488.1 693.21)"/>
<ellipse cx="455.96" cy="664.78" rx="3.71" ry="2.22" fill="#59999f" opacity="0.75" transform="rotate(20 455.96 664.78)"/>
<ellipse cx="494.28" cy="659.83" rx="4.33" ry="1.85" fill="#59999f" opacity="0.75" transform="rotate(10 494.28 659.83)"/>
<path d="M460.28,699.39 C461.46,698.36 463.11,697.74 464.86,696.92 C466.61,696.09 468.98,694.53 470.79,694.44 C472.6,694.36 473.88,696.11 475.74,696.42 C477.59,696.73 480.06,695.8 481.92,696.3 C483.77,696.79 485.83,698.05 486.86,699.39 C487.89,700.73 487.66,702.68 488.1,704.33 C488.53,705.98 488.84,707.63 489.46,709.28 C490.07,710.93 490.88,712.57 491.8,714.22 C492.73,715.87 494.81,717.72 495.02,719.17 C495.22,720.61 494.19,722.03 493.04,722.87 C491.89,723.72 489.54,723.41 488.1,724.23 C486.65,725.06 485.83,726.58 484.39,727.82 C482.95,729.05 481.3,731.03 479.44,731.65 C477.59,732.27 475.32,731.01 473.26,731.53 C471.2,732.04 468.94,734.74 467.08,734.74 C465.23,734.74 463.68,733.09 462.14,731.53 C460.59,729.96 459.25,726.99 457.81,725.35 C456.37,723.7 454.54,722.98 453.49,721.64 C452.44,720.3 451.3,718.65 451.51,717.31 C451.71,715.97 453.88,715.15 454.72,713.6 C455.57,712.06 456.06,709.79 456.58,708.04 C457.09,706.29 457.19,704.54 457.81,703.1 C458.43,701.65 459.11,700.42 460.28,699.39Z" fill="#d5a5d2" stroke="#c491c4" stroke-width="1.1" stroke-linejoin="round"/>
<ellipse cx="463.37" cy="706.8" rx="4.33" ry="2.72" fill="#cc9aca" opacity="0.7" transform="rotate(-30 463.37 706.8)"/>
<ellipse cx="483.15" cy="719.17" rx="4.94" ry="2.72" fill="#cc9aca" opacity="0.7" transform="rotate(20 483.15 719.17)"/>
<ellipse cx="467.08" cy="725.35" rx="3.71" ry="3.09" fill="#cc9aca" opacity="0.7" transform="rotate(0 467.08 725.35)"/>
<ellipse cx="481.92" cy="703.1" rx="3.71" ry="2.22" fill="#cc9aca" opacity="0.7" transform="rotate(10 481.92 703.1)"/>
<text x="459.05" y="688.51" font-size="10.5" font-weight="bold" fill="#231f20" text-anchor="middle" >E3</text>
<text x="474.5" y="716.32" font-size="10.5" font-weight="bold" fill="#231f20" text-anchor="middle" >E2</text>
<g transform="translate(52.9,511) scale(1)"><circle cx="352.41" cy="101.16" r="7.5" fill="#e6e8ea" stroke="#9a9d9e" stroke-width="0.85"/><circle cx="335.45" cy="105.18" r="7.5" fill="#e6e8ea" stroke="#9a9d9e" stroke-width="0.85"/><circle cx="327.41" cy="116.79" r="7.5" fill="#e6e8ea" stroke="#9a9d9e" stroke-width="0.85"/><circle cx="326.07" cy="129.73" r="7.5" fill="#e6e8ea" stroke="#9a9d9e" stroke-width="0.85"/><circle cx="338.57" cy="128.84" r="7.5" fill="#e6e8ea" stroke="#9a9d9e" stroke-width="0.85"/><circle cx="343.04" cy="114.55" r="7.5" fill="#e6e8ea" stroke="#9a9d9e" stroke-width="0.85"/><circle cx="359.55" cy="109.2" r="7.5" fill="#e6e8ea" stroke="#9a9d9e" stroke-width="0.85"/><circle cx="355.98" cy="129.29" r="7.5" fill="#e6e8ea" stroke="#9a9d9e" stroke-width="0.85"/><circle cx="349.73" cy="122.59" r="7.5" fill="#e6e8ea" stroke="#9a9d9e" stroke-width="0.85"/><circle cx="364.02" cy="139.11" r="7.5" fill="#e6e8ea" stroke="#9a9d9e" stroke-width="0.85"/><circle cx="373.39" cy="125.27" r="7.5" fill="#e6e8ea" stroke="#9a9d9e" stroke-width="0.85"/><circle cx="366.25" cy="117.23" r="7.5" fill="#e6e8ea" stroke="#9a9d9e" stroke-width="0.85"/><circle cx="390.71" cy="101.19" r="7.5" fill="#e6e8ea" stroke="#9a9d9e" stroke-width="0.85"/><circle cx="380.24" cy="112.62" r="7.5" fill="#e6e8ea" stroke="#9a9d9e" stroke-width="0.85"/><circle cx="380.71" cy="134.05" r="7.5" fill="#e6e8ea" stroke="#9a9d9e" stroke-width="0.85"/><circle cx="390.24" cy="123.57" r="7.5" fill="#e6e8ea" stroke="#9a9d9e" stroke-width="0.85"/><circle cx="406.9" cy="96.9" r="7.5" fill="#e6e8ea" stroke="#9a9d9e" stroke-width="0.85"/><circle cx="397.86" cy="109.29" r="7.5" fill="#e6e8ea" stroke="#9a9d9e" stroke-width="0.85"/><circle cx="404.52" cy="117.86" r="7.5" fill="#e6e8ea" stroke="#9a9d9e" stroke-width="0.85"/><circle cx="414.52" cy="105.48" r="7.5" fill="#e6e8ea" stroke="#9a9d9e" stroke-width="0.85"/><circle cx="411.19" cy="125.95" r="7.5" fill="#e6e8ea" stroke="#9a9d9e" stroke-width="0.85"/><circle cx="417.86" cy="134.52" r="7.5" fill="#e6e8ea" stroke="#9a9d9e" stroke-width="0.85"/><circle cx="427.86" cy="122.14" r="7.5" fill="#e6e8ea" stroke="#9a9d9e" stroke-width="0.85"/><circle cx="421.19" cy="113.57" r="7.5" fill="#e6e8ea" stroke="#9a9d9e" stroke-width="0.85"/><circle cx="434.05" cy="107.38" r="7.5" fill="#e6e8ea" stroke="#9a9d9e" stroke-width="0.85"/><circle cx="434.05" cy="131.67" r="7.5" fill="#e6e8ea" stroke="#9a9d9e" stroke-width="0.85"/><circle cx="440.71" cy="120.24" r="7.5" fill="#e6e8ea" stroke="#9a9d9e" stroke-width="0.85"/><path d="M428.33,115.48 C428.1,114.68 426.98,112.22 426.9,110.71 C426.83,109.21 426.75,107.62 427.86,106.43 C428.97,105.24 431.51,103.97 433.57,103.57 C435.63,103.17 438.73,103.65 440.24,104.05 C441.75,104.44 442.22,105.63 442.62,105.95" fill="none" stroke="#d5612a" stroke-width="1.25"/><path d="M441.5,111.67 C441.61,108.31 441.3,104.03 442.11,101.28 C442.93,98.53 444.56,96.54 446.39,95.17 C448.23,93.81 450.77,93.3 453.12,93.09 C455.46,92.89 458.66,93.3 460.45,93.95 C462.25,94.6 463.06,94.87 463.88,97 C464.69,99.14 465.71,102.71 465.34,106.78 C464.98,110.86 463.92,117.99 461.67,121.45 C459.43,124.92 454.95,126.75 451.89,127.57 C448.84,128.38 445.07,127.36 443.34,126.34 C441.61,125.33 441.81,123.9 441.5,121.45 C441.2,119.01 441.4,115.04 441.5,111.67Z" fill="#6e7bb4"/><path d="M455.56,103.73 C456.58,100.77 458.62,99.39 460.45,97.62 C462.29,95.84 464.63,94.05 466.56,93.09 C468.5,92.14 470.33,91.87 472.07,91.87 C473.8,91.87 475.88,92.03 476.96,93.09 C478.04,94.15 477.02,97.17 478.55,98.23 C480.07,99.29 483.64,99.14 486.12,99.45 C488.61,99.76 491.67,99.76 493.46,100.06 C495.25,100.37 496.27,99.76 496.88,101.28 C497.49,102.81 496.64,106.89 497.13,109.23 C497.62,111.57 499.25,113 499.82,115.34 C500.39,117.69 501.3,121.25 500.55,123.29 C499.8,125.33 496.78,125.84 495.29,127.57 C493.81,129.3 493.36,131.85 491.63,133.68 C489.89,135.51 487.04,136.94 484.9,138.57 C482.76,140.2 480.93,142.48 478.79,143.46 C476.65,144.44 473.8,145.05 472.07,144.44 C470.33,143.83 470.13,142.2 468.4,139.79 C466.67,137.39 464.02,134.09 461.67,130.01 C459.33,125.94 455.36,119.72 454.34,115.34 C453.32,110.96 454.54,106.68 455.56,103.73Z" fill="#a4d4ec"/><path d="M492.6,112.29 C492.97,110.74 494.7,108.39 495.66,108.5 C496.62,108.6 497.6,111.45 498.35,112.9 C499.1,114.34 499.78,115.65 500.18,117.18 C500.59,118.7 501.26,120.42 500.79,122.07 C500.33,123.72 498.49,126.77 497.37,127.08 C496.25,127.38 494.72,125.45 494.07,123.9 C493.42,122.35 493.7,119.72 493.46,117.79 C493.22,115.85 492.24,113.83 492.6,112.29Z" fill="#8da5d8"/><path d="M452.51,111.67 C453.69,109.74 455.97,106.83 458.01,105.56 C460.04,104.3 463.06,103.59 464.73,104.1 C466.4,104.6 466.34,107.4 468.03,108.62 C469.72,109.84 473.37,110 474.88,111.43 C476.39,112.86 477.14,114.28 477.08,117.18 C477.02,120.07 475.35,125.33 474.51,128.79 C473.68,132.25 473.29,135.51 472.07,137.96 C470.84,140.4 469.62,142.24 467.18,143.46 C464.73,144.68 460.66,144.72 457.4,145.29 C454.14,145.86 450.16,147.49 447.62,146.88 C445.07,146.27 443.64,143.93 442.11,141.63 C440.59,139.32 438.69,135.62 438.45,133.07 C438.2,130.52 438.92,127.87 440.65,126.34 C442.38,124.82 447.13,125.43 448.84,123.9 C450.55,122.37 450.31,119.21 450.92,117.18 C451.53,115.14 451.32,113.61 452.51,111.67Z" fill="#6c9dcf"/><path d="M452.87,111.43 C452.87,109.39 456.03,106.78 458.01,105.56 C459.98,104.34 463.06,103.59 464.73,104.1 C466.4,104.6 466.34,107.4 468.03,108.62 C469.72,109.84 473.37,110 474.88,111.43 C476.39,112.86 476.94,115.1 477.08,117.18 C477.22,119.25 476.67,121.96 475.73,123.9 C474.8,125.84 473.19,128.79 471.45,128.79 C469.72,128.79 467.58,125.73 465.34,123.9 C463.1,122.07 460.09,119.87 458.01,117.79 C455.93,115.71 452.87,113.47 452.87,111.43Z" fill="#7aa7d6"/><path d="M345.71,129.29 C344.67,130.18 341.7,133.38 339.46,134.64 C337.23,135.91 334.55,137.02 332.32,136.88 C330.09,136.73 327.49,135.61 326.07,133.75 C324.66,131.89 324.14,128.1 323.84,125.71 C323.54,123.33 324.66,121.4 324.29,119.46 C323.91,117.53 322.8,115.6 321.61,114.11 C320.42,112.62 318.48,111.8 317.14,110.54 C315.8,109.27 313.87,107.71 313.57,106.52 C313.27,105.33 314.46,103.47 315.36,103.39 C316.25,103.32 317.59,104.73 318.93,106.07 C320.27,107.41 321.9,110.24 323.39,111.43 C324.88,112.62 326.22,113.66 327.86,113.21 C329.49,112.77 331.43,110.61 333.21,108.75 C335,106.89 337.31,102.95 338.57,102.05 C339.84,101.16 340.21,102.28 340.8,103.39 C341.4,104.51 341.03,106.82 342.14,108.75 C343.26,110.68 346.31,112.92 347.5,115 C348.69,117.08 349.36,119.46 349.29,121.25 C349.21,123.04 346.9,124.52 347.05,125.71 C347.2,126.9 348.62,127.65 350.18,128.39 C351.74,129.14 354.35,128.99 356.43,130.18 C358.51,131.37 361.04,133.97 362.68,135.54 C364.32,137.1 365.13,139.11 366.25,139.55 C367.37,140 368.56,139.48 369.38,138.21 C370.19,136.95 370.86,133.01 371.16,131.96 M369.29,110.24 C370.16,109.76 373.1,108.17 374.52,107.38 C375.95,106.59 377.86,106.43 377.86,105.48 C377.86,104.52 375.56,103.17 374.52,101.67 C373.49,100.16 371.98,97.7 371.67,96.43 C371.35,95.16 372.06,94.13 372.62,94.05 C373.17,93.97 374.05,94.76 375,95.95 C375.95,97.14 377.22,99.76 378.33,101.19 C379.44,102.62 380.48,104.21 381.67,104.52 C382.86,104.84 384.37,104.13 385.48,103.1 C386.59,102.06 387.46,99.76 388.33,98.33 C389.21,96.9 389.68,95.16 390.71,94.52 C391.75,93.89 393.65,94.05 394.52,94.52 C395.4,95 395.95,95.79 395.95,97.38 C395.95,98.97 394.44,102.14 394.52,104.05 C394.6,105.95 395.32,107.46 396.43,108.81 C397.54,110.16 399.6,111.19 401.19,112.14 C402.78,113.1 404.6,113.49 405.95,114.52 C407.3,115.56 408.65,116.59 409.29,118.33 C409.92,120.08 409.21,122.94 409.76,125 C410.32,127.06 411.98,129.13 412.62,130.71 C413.25,132.3 413.89,133.41 413.57,134.52 C413.25,135.63 411.83,136.51 410.71,137.38 C409.6,138.25 407.7,139.13 406.9,139.76 C406.11,140.4 405.63,140.83 405.95,141.19 C406.27,141.56 407.38,142.27 408.81,141.95 C410.24,141.63 412.62,140.68 414.52,139.29 C416.43,137.89 418.33,135.4 420.24,133.57 C422.14,131.75 425,129.21 425.95,128.33" fill="none" stroke="#d5612a" stroke-width="1.25" stroke-linejoin="round"/><path d="M425.95,128.33 C427.54,127.78 432.94,125.95 435.48,125 C438.02,124.05 440.59,122.8 441.19,122.62 C441.79,122.44 439.41,123.69 439.06,123.9 M425.95,132.14 C427.54,131.9 433.29,130.97 435.48,130.71 C437.66,130.46 438.46,130.64 439.06,130.62" fill="none" stroke="#d5612a" stroke-width="1.2" stroke-dasharray="1.8 1.3"/><path d="M439.06,123.9 C439.98,123.19 442.83,120.88 444.56,119.62 C446.29,118.36 447,117.81 449.45,116.32 C451.89,114.83 455.77,112.16 459.23,110.7 C462.69,109.23 466.77,107.89 470.23,107.52 C473.7,107.15 476.55,107.6 480.01,108.5 C483.48,109.39 487.8,111.25 491.01,112.9 C494.23,114.55 497.98,116.87 499.33,118.4 C500.67,119.93 499.12,121.45 499.08,122.07 M439.06,130.62 C439.77,130.15 441.61,128.73 443.34,127.81 C445.07,126.89 446.39,126 449.45,125.12 C452.51,124.25 457.6,122.84 461.67,122.56 C465.75,122.27 470.64,122.58 473.9,123.41 C477.16,124.25 479.4,126.1 481.23,127.57 C483.07,129.03 484.29,130.91 484.9,132.21 C485.51,133.52 485.47,134.82 484.9,135.39 C484.33,135.96 482.05,135.59 481.48,135.64" fill="none" stroke="#d5612a" stroke-width="1.3" stroke-linejoin="round"/><path d="M442.24,121.42 L443,125.01 M446.54,118.29 L447.22,121.93 M451.01,115.42 L451.62,119.11 M455.62,112.77 L456.24,116.46 M460.34,110.37 L460.68,114.18 M465.45,108.9 L465.79,112.7 M470.58,107.55 L470.45,111.4 M475.87,108.08 L475.75,111.93 M481.08,108.93 L480.63,112.69 M486.02,110.9 L485.57,114.66 M490.96,112.88 L490.51,116.64 M495.4,115.8 L494.73,119.45 M441.19,129.23 L441.82,132.67 M445.27,126.96 L445.73,130.5 M449.56,125.1 L449.8,128.7 M454.14,124.14 L454.38,127.74 M458.72,123.17 L458.96,126.78 M463.34,122.67 L463.26,126.3 M468.01,123 L467.93,126.63 M472.68,123.33 L472.6,126.95 M476.91,125.12 L476.34,128.6 M480.98,127.42 L480.41,130.9 M483.96,131.01 L483.05,134.21" fill="none" stroke="#d5612a" stroke-width="1.15"/><path d="M441,134.6 C442.25,134.95 445.82,136.53 448.5,136.7 C451.18,136.87 454.42,136.23 457.1,135.6 C459.78,134.97 462.1,133.52 464.6,132.9 C467.1,132.28 470.13,131.72 472.1,131.9 C474.07,132.08 475.15,133.2 476.4,134 C477.65,134.8 479.07,136.25 479.6,136.7" fill="none" stroke="#c07fb8" stroke-width="1"/><path d="M442.97,135.15 L443.31,131.24 M446.13,136.04 L446.47,132.12 M449.31,136.6 L449.15,132.65 M452.56,136.18 L452.4,132.23 M455.81,135.76 L455.65,131.82 M458.96,134.93 L458.53,131.04 M462.04,133.82 L461.62,129.93 M465.16,132.83 L464.99,128.88 M468.4,132.39 L468.24,128.44 M471.65,131.96 L471.49,128.01 M474.64,133.14 L475.19,129.31 M477.41,134.85 L478.22,131.19" fill="none" stroke="#c07fb8" stroke-width="0.8"/><text x="502.3" y="125.9" font-size="9.7" font-weight="bold" fill="#111" text-anchor="start" >3'</text><text x="483.9" y="143.8" font-size="9.7" font-weight="bold" fill="#111" text-anchor="start" >5'</text></g>
<path d="M491.8,645.99 C491.19,646.44 489.74,648.13 488.1,648.71 C486.45,649.29 483.65,648.79 481.92,649.45 C480.19,650.11 478.62,651.18 477.71,652.66 C476.81,654.15 476.68,657.4 476.48,658.35" stroke="#666" stroke-width="1" fill="none"/>
<ellipse cx="476.72" cy="663.79" rx="7.7" ry="5.6" fill="#0f9148" transform="rotate(-6 476.72 663.79)"/>
<circle cx="506.67" cy="594.88" r="10.3" fill="#c6cf2f"/><text x="506.67" y="598.48" font-size="10.6" font-weight="bold" fill="#231f20" text-anchor="middle" >Ub</text>
<circle cx="548.06" cy="600.12" r="10.3" fill="#c6cf2f"/><text x="548.06" y="603.72" font-size="10.6" font-weight="bold" fill="#231f20" text-anchor="middle" >Ub</text>
<circle cx="399.81" cy="654.34" r="10.3" fill="#c6cf2f"/><text x="399.81" y="657.94" font-size="10.6" font-weight="bold" fill="#231f20" text-anchor="middle" >Ub</text>
<circle cx="420.24" cy="665.6" r="10.3" fill="#c6cf2f"/><text x="420.24" y="669.2" font-size="10.6" font-weight="bold" fill="#231f20" text-anchor="middle" >Ub</text>
<text x="665" y="626.6" font-size="12" font-weight="bold" fill="#231f20" text-anchor="middle" >Proteasome</text>
<path d="M620,633.7 H699.2" stroke="#111" stroke-width="1" fill="none"/><path d="M705.2,633.7 L696,629.9 L698.2,633.7 L696,637.5Z" fill="#111"/>
<circle cx="648.34" cy="703.46" r="4.05" fill="#5c6eb0" stroke="#5264a6" stroke-width="0.5"/><circle cx="655.06" cy="705.29" r="4.05" fill="#5c6eb0" stroke="#5264a6" stroke-width="0.5"/><circle cx="662.03" cy="704.44" r="4.05" fill="#5c6eb0" stroke="#5264a6" stroke-width="0.5"/><circle cx="667.04" cy="702.48" r="4.05" fill="#5c6eb0" stroke="#5264a6" stroke-width="0.5"/><circle cx="646.5" cy="708.35" r="4.05" fill="#5c6eb0" stroke="#5264a6" stroke-width="0.5"/><circle cx="651.76" cy="710.55" r="4.05" fill="#5c6eb0" stroke="#5264a6" stroke-width="0.5"/><circle cx="659.1" cy="709.57" r="4.05" fill="#5c6eb0" stroke="#5264a6" stroke-width="0.5"/><circle cx="665.45" cy="708.11" r="4.05" fill="#5c6eb0" stroke="#5264a6" stroke-width="0.5"/><circle cx="648.34" cy="713.24" r="4.05" fill="#5c6eb0" stroke="#5264a6" stroke-width="0.5"/><circle cx="655.06" cy="715.07" r="4.05" fill="#5c6eb0" stroke="#5264a6" stroke-width="0.5"/><circle cx="661.54" cy="712.26" r="4.05" fill="#5c6eb0" stroke="#5264a6" stroke-width="0.5"/><circle cx="666.67" cy="710.18" r="4.05" fill="#5c6eb0" stroke="#5264a6" stroke-width="0.5"/><circle cx="657.51" cy="716.66" r="4.05" fill="#5c6eb0" stroke="#5264a6" stroke-width="0.5"/><circle cx="652" cy="661.65" r="4.05" fill="#8ecfdd" stroke="#62adbb" stroke-width="0.5"/><circle cx="657.87" cy="660.43" r="4.05" fill="#8ecfdd" stroke="#62adbb" stroke-width="0.5"/><circle cx="663.74" cy="661.65" r="4.05" fill="#8ecfdd" stroke="#62adbb" stroke-width="0.5"/><circle cx="646.27" cy="693.24" r="4.05" fill="#8ecfdd" stroke="#62adbb" stroke-width="0.5"/><circle cx="669.47" cy="693.24" r="4.05" fill="#8ecfdd" stroke="#62adbb" stroke-width="0.5"/><circle cx="649.94" cy="698.08" r="4.05" fill="#8ecfdd" stroke="#62adbb" stroke-width="0.5"/><circle cx="665.81" cy="698.08" r="4.05" fill="#8ecfdd" stroke="#62adbb" stroke-width="0.5"/><circle cx="657.87" cy="700.4" r="4.05" fill="#8ecfdd" stroke="#62adbb" stroke-width="0.5"/><circle cx="646.27" cy="686.51" r="4.05" fill="#e0709f" stroke="#d0608f" stroke-width="0.5"/><circle cx="669.47" cy="686.51" r="4.05" fill="#e0709f" stroke="#d0608f" stroke-width="0.5"/><circle cx="649.94" cy="691.36" r="4.05" fill="#e0709f" stroke="#d0608f" stroke-width="0.5"/><circle cx="665.81" cy="691.36" r="4.05" fill="#e0709f" stroke="#d0608f" stroke-width="0.5"/><circle cx="657.87" cy="693.68" r="4.05" fill="#e0709f" stroke="#d0608f" stroke-width="0.5"/><circle cx="646.27" cy="679.18" r="4.05" fill="#8ecfdd" stroke="#62adbb" stroke-width="0.5"/><circle cx="669.47" cy="679.18" r="4.05" fill="#8ecfdd" stroke="#62adbb" stroke-width="0.5"/><circle cx="649.94" cy="684.02" r="4.05" fill="#8ecfdd" stroke="#62adbb" stroke-width="0.5"/><circle cx="665.81" cy="684.02" r="4.05" fill="#8ecfdd" stroke="#62adbb" stroke-width="0.5"/><circle cx="657.87" cy="686.34" r="4.05" fill="#8ecfdd" stroke="#62adbb" stroke-width="0.5"/><circle cx="646.27" cy="673.07" r="4.05" fill="#8ecfdd" stroke="#62adbb" stroke-width="0.5"/><circle cx="669.47" cy="673.07" r="4.05" fill="#8ecfdd" stroke="#62adbb" stroke-width="0.5"/><circle cx="649.94" cy="677.91" r="4.05" fill="#8ecfdd" stroke="#62adbb" stroke-width="0.5"/><circle cx="665.81" cy="677.91" r="4.05" fill="#8ecfdd" stroke="#62adbb" stroke-width="0.5"/><circle cx="657.87" cy="680.23" r="4.05" fill="#8ecfdd" stroke="#62adbb" stroke-width="0.5"/><circle cx="646.27" cy="667.57" r="4.05" fill="#e0709f" stroke="#d0608f" stroke-width="0.5"/><circle cx="669.47" cy="667.57" r="4.05" fill="#e0709f" stroke="#d0608f" stroke-width="0.5"/><circle cx="649.94" cy="672.41" r="4.05" fill="#e0709f" stroke="#d0608f" stroke-width="0.5"/><circle cx="665.81" cy="672.41" r="4.05" fill="#e0709f" stroke="#d0608f" stroke-width="0.5"/><circle cx="657.87" cy="674.73" r="4.05" fill="#e0709f" stroke="#d0608f" stroke-width="0.5"/><circle cx="646.27" cy="660.23" r="4.05" fill="#8ecfdd" stroke="#62adbb" stroke-width="0.5"/><circle cx="669.47" cy="660.23" r="4.05" fill="#8ecfdd" stroke="#62adbb" stroke-width="0.5"/><circle cx="649.94" cy="665.07" r="4.05" fill="#8ecfdd" stroke="#62adbb" stroke-width="0.5"/><circle cx="665.81" cy="665.07" r="4.05" fill="#8ecfdd" stroke="#62adbb" stroke-width="0.5"/><circle cx="657.87" cy="667.4" r="4.05" fill="#8ecfdd" stroke="#62adbb" stroke-width="0.5"/><circle cx="658.36" cy="645.39" r="4.05" fill="#5c6eb0" stroke="#5264a6" stroke-width="0.5"/><circle cx="665.21" cy="645.02" r="4.05" fill="#5c6eb0" stroke="#5264a6" stroke-width="0.5"/><circle cx="650.17" cy="649.43" r="4.05" fill="#5c6eb0" stroke="#5264a6" stroke-width="0.5"/><circle cx="646.5" cy="655.17" r="4.05" fill="#5c6eb0" stroke="#5264a6" stroke-width="0.5"/><circle cx="668.88" cy="651.5" r="4.05" fill="#5c6eb0" stroke="#5264a6" stroke-width="0.5"/><circle cx="666.67" cy="656.76" r="4.05" fill="#5c6eb0" stroke="#5264a6" stroke-width="0.5"/><circle cx="649.56" cy="656.03" r="4.05" fill="#5c6eb0" stroke="#5264a6" stroke-width="0.5"/><circle cx="660.2" cy="648.69" r="4.05" fill="#5c6eb0" stroke="#5264a6" stroke-width="0.5"/><circle cx="654.08" cy="653.34" r="4.05" fill="#5c6eb0" stroke="#5264a6" stroke-width="0.5"/><circle cx="661.54" cy="655.29" r="4.05" fill="#5c6eb0" stroke="#5264a6" stroke-width="0.5"/><circle cx="655.06" cy="659.21" r="4.05" fill="#5c6eb0" stroke="#5264a6" stroke-width="0.5"/>
<ellipse cx="804.24" cy="610.82" rx="2.85" ry="4.08" fill="#8aaedb" transform="rotate(-20 804.24 610.82)"/><ellipse cx="794.05" cy="642.07" rx="2.72" ry="4.08" fill="#8aaedb" transform="rotate(-10 794.05 642.07)"/><path d="M781.82,597.23 C782.45,596.59 787.19,595.85 789.29,596.41 C791.4,596.98 793.41,599.24 794.46,600.62 C795.5,602.01 796.52,604.09 795.54,604.7 C794.57,605.31 790.29,605.04 788.61,604.29 C786.94,603.55 786.62,601.39 785.49,600.22 C784.36,599.04 781.19,597.86 781.82,597.23Z" fill="#a6d6ee"/><path d="M770.54,629.16 C771.31,628.7 776.25,629.09 778.42,628.75 C780.6,628.41 782.41,626.3 783.59,627.12 C784.76,627.93 786.08,632.06 785.49,633.64 C784.9,635.23 781.68,636.31 780.05,636.63 C778.42,636.95 776.75,636.4 775.71,635.54 C774.66,634.68 774.66,632.53 773.8,631.47 C772.94,630.4 769.77,629.61 770.54,629.16Z" fill="#a6d6ee"/><path d="M762.8,661.77 C762.75,660.82 767.26,660.97 768.91,660.41 C770.57,659.84 771.68,657.4 772.72,658.37 C773.76,659.34 775.75,664.96 775.16,666.25 C774.57,667.54 771.25,666.86 769.18,666.11 C767.12,665.37 762.84,662.72 762.8,661.77Z" fill="#a6d6ee"/><path d="M761.03,607.42 C761.89,607.33 764.2,607.89 764.57,608.37 C764.93,608.85 764.07,610.18 763.21,610.27 C762.35,610.36 759.76,609.39 759.4,608.91 C759.04,608.44 760.17,607.51 761.03,607.42Z" fill="#8aaedb"/><ellipse cx="777.74" cy="614.21" rx="1.22" ry="1.77" fill="#8aaedb" transform="rotate(-30 777.74 614.21)"/><ellipse cx="751.52" cy="639.62" rx="1.22" ry="1.36" fill="#8aaedb" transform="rotate(0 751.52 639.62)"/><path d="M806.96,620.05 C808.36,620.24 814.61,625.22 813.75,626.85 C812.89,628.48 803.2,630.02 801.79,629.84 C800.39,629.66 804.47,627.39 805.33,625.76 C806.19,624.13 805.55,619.87 806.96,620.05Z" fill="#8aaedb"/><path d="M796.09,651.58 C797.49,651.8 803.67,656.2 802.88,657.69 C802.09,659.18 792.74,660.77 791.33,660.54 C789.93,660.32 793.66,657.83 794.46,656.33 C795.25,654.84 794.68,651.35 796.09,651.58Z" fill="#8aaedb"/><path d="M756.01,667.2 C757.39,667.43 763.68,671.8 762.93,673.32 C762.19,674.83 752.9,676.53 751.52,676.3 C750.14,676.08 753.9,673.47 754.65,671.96 C755.39,670.44 754.62,666.97 756.01,667.2Z" fill="#8aaedb"/><path d="M762.12,645.05 C762.21,643.22 765.7,637.81 767.55,637.31 C769.41,636.81 772.76,640.68 773.26,642.07 C773.76,643.45 771.59,644.56 770.54,645.6 C769.5,646.64 768.41,648.41 767.01,648.32 C765.61,648.22 762.03,646.89 762.12,645.05Z" fill="#8aaedb"/><ellipse cx="741.06" cy="611.49" rx="2.72" ry="11.68" fill="#6b74b6" transform="rotate(2 741.06 611.49)"/><ellipse cx="730.6" cy="643.15" rx="2.72" ry="11.68" fill="#6b74b6" transform="rotate(3 730.6 643.15)"/><ellipse cx="747.85" cy="638.67" rx="2.31" ry="6.79" fill="#6b74b6" transform="rotate(-8 747.85 638.67)"/><ellipse cx="736.98" cy="669.24" rx="2.58" ry="6.79" fill="#6b74b6" transform="rotate(-14 736.98 669.24)"/><path d="M763.75,633.37 C764.54,632.62 768.23,632.06 768.91,632.83 C769.59,633.6 768.62,637.24 767.83,637.99 C767.03,638.74 764.84,638.08 764.16,637.31 C763.48,636.54 762.96,634.12 763.75,633.37Z" fill="#6b74b6"/><path d="M768.23,597.91 C768.53,597.45 769.71,600.56 770.95,601.3 C772.2,602.05 774.23,602.5 775.71,602.39 C777.18,602.28 779.33,600.17 779.78,600.62 C780.24,601.08 779.44,604.04 778.42,605.11 C777.4,606.17 775.21,607.19 773.67,607.01 C772.13,606.83 770.09,605.54 769.18,604.02 C768.28,602.5 767.94,598.36 768.23,597.91Z" fill="#6b74b6"/><path d="M758.72,617.61 C759.4,616.66 761.96,616.73 763.48,617.07 C765,617.4 766.74,617.74 767.83,619.65 C768.91,621.55 770.27,626.73 770,628.48 C769.73,630.22 767.17,630.9 766.2,630.11 C765.22,629.32 765.29,624.95 764.16,623.72 C763.03,622.5 760.31,623.79 759.4,622.77 C758.5,621.75 758.04,618.56 758.72,617.61Z" fill="#6b74b6"/><path d="M747.85,648.18 C748.69,647.32 751.59,647.21 753.29,647.77 C754.99,648.34 757.02,649.4 758.04,651.58 C759.06,653.75 759.81,659.18 759.4,660.82 C758.99,662.45 756.62,662.4 755.6,661.36 C754.58,660.32 754.51,655.97 753.29,654.57 C752.07,653.16 749.17,654 748.26,652.93 C747.36,651.87 747.02,649.04 747.85,648.18Z" fill="#6b74b6"/><path d="M800.98,642.07 C801.66,641.39 804.1,641.27 805.6,640.03 C807.09,638.78 809.09,634.71 809.95,634.59 C810.81,634.48 811.37,637.65 810.76,639.35 C810.15,641.05 807.82,643.99 806.28,644.78 C804.74,645.58 802.4,644.56 801.52,644.1 C800.64,643.65 800.3,642.74 800.98,642.07Z" fill="#6b74b6"/><path d="M789.97,671.28 C790.74,670.67 793.21,670.76 794.73,669.92 C796.25,669.08 798.22,666.14 799.08,666.25 C799.94,666.36 800.66,668.97 799.89,670.6 C799.12,672.23 796.09,675.53 794.46,676.03 C792.83,676.53 790.86,674.38 790.11,673.59 C789.36,672.79 789.2,671.89 789.97,671.28Z" fill="#6b74b6"/><ellipse cx="751.25" cy="620.6" rx="0.75" ry="2.58" fill="#4a9ea3" transform="rotate(12 751.25 620.6)"/><ellipse cx="740.38" cy="651.58" rx="0.75" ry="2.58" fill="#4a9ea3" transform="rotate(12 740.38 651.58)"/><path d="M749.21,604.02 C749.08,602.84 750.32,599.81 751.52,598.32 C752.72,596.82 754.76,595.42 756.41,595.05 C758.07,594.69 760.04,595.33 761.44,596.14 C762.84,596.96 764.95,599.27 764.84,599.95 C764.72,600.62 762.3,600.08 760.76,600.22 C759.22,600.35 757,599.9 755.6,600.76 C754.19,601.62 753.4,604.84 752.34,605.38 C751.27,605.92 749.35,605.2 749.21,604.02Z" fill="#e3e5e7" stroke="#979b9c" stroke-width="1.8" stroke-linejoin="round"/><path d="M790.65,607.42 C791.56,606.69 791.97,610.34 793.37,610.82 C794.77,611.29 798.58,609.46 799.08,610.27 C799.57,611.09 798.22,614.89 796.36,615.71 C794.5,616.52 788.89,616.54 787.93,615.16 C786.98,613.78 789.75,608.14 790.65,607.42Z" fill="#e3e5e7" stroke="#979b9c" stroke-width="1.8" stroke-linejoin="round"/><path d="M738.34,635.95 C738.64,634.55 740.95,629.79 742.42,628.21 C743.89,626.62 745.59,626.35 747.17,626.44 C748.76,626.53 750.34,628.64 751.93,628.75 C753.51,628.86 755.03,626.71 756.68,627.12 C758.34,627.53 760.72,629.7 761.85,631.2 C762.98,632.69 764.07,635.18 763.48,636.09 C762.89,636.99 759.9,637.22 758.32,636.63 C756.73,636.04 755.48,633.55 753.97,632.55 C752.45,631.56 750.98,630.74 749.21,630.65 C747.45,630.56 744.8,631.01 743.37,632.01 C741.94,633.01 741.49,635.97 740.65,636.63 C739.81,637.29 738.05,637.36 738.34,635.95Z" fill="#e3e5e7" stroke="#979b9c" stroke-width="1.8" stroke-linejoin="round"/><path d="M776.39,646.96 C776.68,645.51 778.99,639.57 780.46,638.8 C781.93,638.03 783.29,642.25 785.22,642.34 C787.14,642.43 790.43,638.44 792.01,639.35 C793.6,640.25 795.41,646.19 794.73,647.77 C794.05,649.36 789.75,649.31 787.93,648.86 C786.12,648.41 785.4,645.28 783.86,645.05 C782.32,644.83 779.94,647.18 778.7,647.5 C777.45,647.82 776.09,648.41 776.39,646.96Z" fill="#e3e5e7" stroke="#979b9c" stroke-width="1.8" stroke-linejoin="round"/><path d="M770.27,673.99 C771.68,672.82 777.61,669.99 779.78,670.6 C781.96,671.21 783.77,676.08 783.32,677.66 C782.86,679.25 779.06,680.11 777.07,680.11 C775.07,680.11 772.49,678.68 771.36,677.66 C770.23,676.64 768.87,675.17 770.27,673.99Z" fill="#e3e5e7" stroke="#979b9c" stroke-width="1.8" stroke-linejoin="round"/><ellipse cx="793.37" cy="624.67" rx="4.21" ry="4.21" fill="#e3e5e7" stroke="#979b9c" stroke-width="1.9" transform="rotate(0 793.37 624.67)"/><ellipse cx="782.23" cy="655.92" rx="4.08" ry="4.08" fill="#e3e5e7" stroke="#979b9c" stroke-width="1.9" transform="rotate(0 782.23 655.92)"/><ellipse cx="747.17" cy="663.53" rx="5.43" ry="3.94" fill="#e3e5e7" stroke="#979b9c" stroke-width="1.9" transform="rotate(30 747.17 663.53)"/></g>
</svg>
</body></html>
